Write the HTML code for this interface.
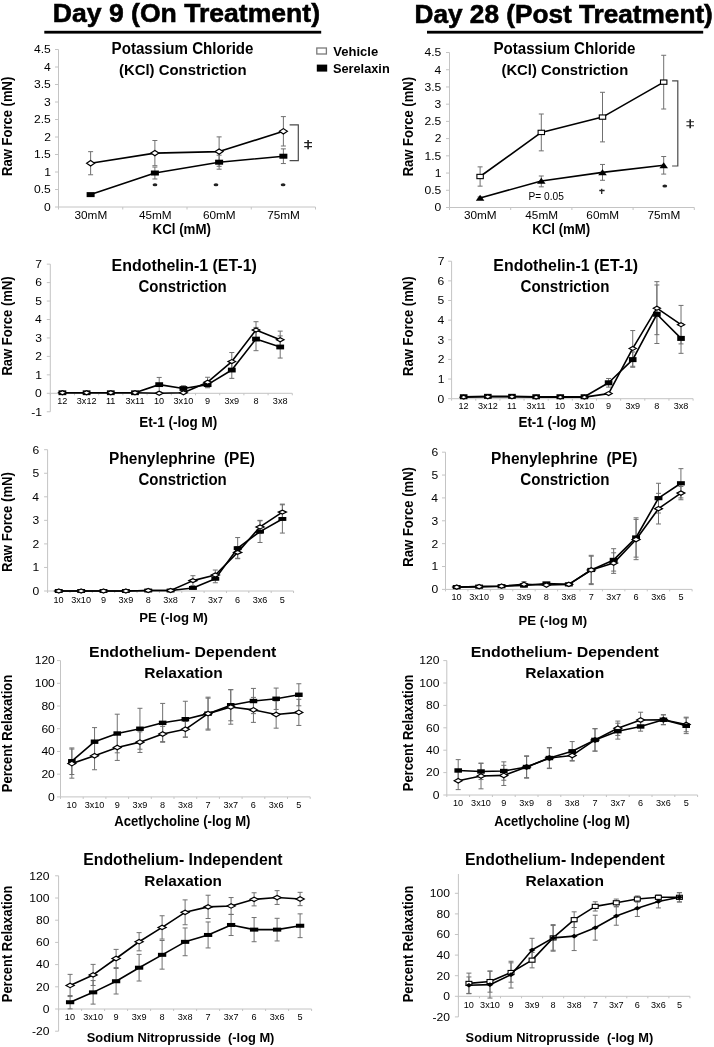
<!DOCTYPE html>
<html><head><meta charset="utf-8"><style>
html,body{margin:0;padding:0;background:#fff;}
svg{display:block;font-family:"Liberation Sans",sans-serif;}
svg{filter:grayscale(1);}
</style></head><body>
<svg width="714" height="1047" viewBox="0 0 714 1047">
<rect width="714" height="1047" fill="#fff"/>
<path d="M58.5 49.50V207.00" stroke="#c4c4c4" stroke-width="1" fill="none"/>
<path d="M55.00 207.00H58.5" stroke="#c4c4c4" stroke-width="1"/>
<text transform="translate(44.01,210.85) scale(1.1,1)" font-size="11" font-weight="normal">0</text>
<path d="M55.00 189.50H58.5" stroke="#c4c4c4" stroke-width="1"/>
<text transform="translate(33.96,193.35) scale(1.1,1)" font-size="11" font-weight="normal">0.5</text>
<path d="M55.00 172.00H58.5" stroke="#c4c4c4" stroke-width="1"/>
<text transform="translate(44.13,175.85) scale(1.1,1)" font-size="11" font-weight="normal">1</text>
<path d="M55.00 154.50H58.5" stroke="#c4c4c4" stroke-width="1"/>
<text transform="translate(33.96,158.35) scale(1.1,1)" font-size="11" font-weight="normal">1.5</text>
<path d="M55.00 137.00H58.5" stroke="#c4c4c4" stroke-width="1"/>
<text transform="translate(44.19,140.85) scale(1.1,1)" font-size="11" font-weight="normal">2</text>
<path d="M55.00 119.50H58.5" stroke="#c4c4c4" stroke-width="1"/>
<text transform="translate(33.96,123.35) scale(1.1,1)" font-size="11" font-weight="normal">2.5</text>
<path d="M55.00 102.00H58.5" stroke="#c4c4c4" stroke-width="1"/>
<text transform="translate(44.07,105.85) scale(1.1,1)" font-size="11" font-weight="normal">3</text>
<path d="M55.00 84.50H58.5" stroke="#c4c4c4" stroke-width="1"/>
<text transform="translate(33.96,88.35) scale(1.1,1)" font-size="11" font-weight="normal">3.5</text>
<path d="M55.00 67.00H58.5" stroke="#c4c4c4" stroke-width="1"/>
<text transform="translate(43.95,70.85) scale(1.1,1)" font-size="11" font-weight="normal">4</text>
<path d="M55.00 49.50H58.5" stroke="#c4c4c4" stroke-width="1"/>
<text transform="translate(33.96,53.35) scale(1.1,1)" font-size="11" font-weight="normal">4.5</text>
<path d="M58.5 207.00H315.50" stroke="#c4c4c4" stroke-width="1"/>
<path d="M58.50 207.00v2.5" stroke="#c4c4c4" stroke-width="1"/>
<path d="M122.75 207.00v2.5" stroke="#c4c4c4" stroke-width="1"/>
<path d="M187.00 207.00v2.5" stroke="#c4c4c4" stroke-width="1"/>
<path d="M251.25 207.00v2.5" stroke="#c4c4c4" stroke-width="1"/>
<path d="M315.50 207.00v2.5" stroke="#c4c4c4" stroke-width="1"/>
<text transform="translate(74.53,218.60) scale(1.07,1)" font-size="11" font-weight="normal" fill="#000">30mM</text>
<text transform="translate(138.90,218.60) scale(1.07,1)" font-size="11" font-weight="normal" fill="#000">45mM</text>
<text transform="translate(202.97,218.60) scale(1.07,1)" font-size="11" font-weight="normal" fill="#000">60mM</text>
<text transform="translate(267.22,218.60) scale(1.07,1)" font-size="11" font-weight="normal" fill="#000">75mM</text>
<path d="M90.62 194.61V193.56M88.12 193.56H93.12M90.62 194.61V195.66M88.12 195.66H93.12" stroke="#707070" stroke-width="1" fill="none"/>
<path d="M154.88 173.01V167.06M152.38 167.06H157.38M154.88 173.01V178.97M152.38 178.97H157.38" stroke="#707070" stroke-width="1" fill="none"/>
<path d="M219.12 162.20V155.20M216.62 155.20H221.62M219.12 162.20V169.20M216.62 169.20H221.62" stroke="#707070" stroke-width="1" fill="none"/>
<path d="M283.38 156.22V148.87M280.88 148.87H285.88M283.38 156.22V163.56M280.88 163.56H285.88" stroke="#707070" stroke-width="1" fill="none"/>
<path d="M90.62 163.22V151.66M88.12 151.66H93.12M90.62 163.22V174.77M88.12 174.77H93.12" stroke="#707070" stroke-width="1" fill="none"/>
<path d="M154.88 153.10V140.50M152.38 140.50H157.38M154.88 153.10V165.70M152.38 165.70H157.38" stroke="#707070" stroke-width="1" fill="none"/>
<path d="M219.12 151.59V136.89M216.62 136.89H221.62M219.12 151.59V166.30M216.62 166.30H221.62" stroke="#707070" stroke-width="1" fill="none"/>
<path d="M283.38 131.30V116.60M280.88 116.60H285.88M283.38 131.30V146.00M280.88 146.00H285.88" stroke="#707070" stroke-width="1" fill="none"/>
<polyline points="90.62,194.61 154.88,173.01 219.12,162.20 283.38,156.22" fill="none" stroke="#000" stroke-width="1.6" stroke-linejoin="round"/>
<rect x="86.62" y="192.11" width="8.0" height="5.0" fill="#000"/>
<rect x="150.88" y="170.51" width="8.0" height="5.0" fill="#000"/>
<rect x="215.12" y="159.70" width="8.0" height="5.0" fill="#000"/>
<rect x="279.38" y="153.72" width="8.0" height="5.0" fill="#000"/>
<polyline points="90.62,163.22 154.88,153.10 219.12,151.59 283.38,131.30" fill="none" stroke="#000" stroke-width="1.6" stroke-linejoin="round"/>
<path d="M86.62 163.22L90.62 160.52L94.62 163.22L90.62 165.91Z" fill="#fff" stroke="#000" stroke-width="1.2"/>
<path d="M150.88 153.10L154.88 150.40L158.88 153.10L154.88 155.80Z" fill="#fff" stroke="#000" stroke-width="1.2"/>
<path d="M215.12 151.59L219.12 148.90L223.12 151.59L219.12 154.29Z" fill="#fff" stroke="#000" stroke-width="1.2"/>
<path d="M279.38 131.30L283.38 128.60L287.38 131.30L283.38 134.00Z" fill="#fff" stroke="#000" stroke-width="1.2"/>
<text transform="translate(111.62,53.60) scale(0.9453,1)" font-size="15.99" font-weight="bold" fill="#000" style="white-space:pre" >Potassium Chloride</text>
<text transform="translate(118.95,74.80) scale(0.9870,1)" font-size="15.12" font-weight="bold" fill="#000" style="white-space:pre" >(KCl) Constriction</text>
<text transform="translate(152.53,233.90) scale(0.9539,1)" font-size="13.95" font-weight="bold" fill="#000" style="white-space:pre" >KCl (mM)</text>
<text transform="translate(12.30,175.95) rotate(-90) scale(0.9453,1)" font-size="13.81" font-weight="bold">Raw Force (mN)</text>
<path d="M449.5 52.52V207.50" stroke="#c4c4c4" stroke-width="1" fill="none"/>
<path d="M446.00 207.50H449.5" stroke="#c4c4c4" stroke-width="1"/>
<text transform="translate(434.51,211.35) scale(1.1,1)" font-size="11" font-weight="normal">0</text>
<path d="M446.00 190.28H449.5" stroke="#c4c4c4" stroke-width="1"/>
<text transform="translate(424.47,194.13) scale(1.1,1)" font-size="11" font-weight="normal">0.5</text>
<path d="M446.00 173.06H449.5" stroke="#c4c4c4" stroke-width="1"/>
<text transform="translate(434.63,176.91) scale(1.1,1)" font-size="11" font-weight="normal">1</text>
<path d="M446.00 155.84H449.5" stroke="#c4c4c4" stroke-width="1"/>
<text transform="translate(424.47,159.69) scale(1.1,1)" font-size="11" font-weight="normal">1.5</text>
<path d="M446.00 138.62H449.5" stroke="#c4c4c4" stroke-width="1"/>
<text transform="translate(434.69,142.47) scale(1.1,1)" font-size="11" font-weight="normal">2</text>
<path d="M446.00 121.40H449.5" stroke="#c4c4c4" stroke-width="1"/>
<text transform="translate(424.47,125.25) scale(1.1,1)" font-size="11" font-weight="normal">2.5</text>
<path d="M446.00 104.18H449.5" stroke="#c4c4c4" stroke-width="1"/>
<text transform="translate(434.57,108.03) scale(1.1,1)" font-size="11" font-weight="normal">3</text>
<path d="M446.00 86.96H449.5" stroke="#c4c4c4" stroke-width="1"/>
<text transform="translate(424.47,90.81) scale(1.1,1)" font-size="11" font-weight="normal">3.5</text>
<path d="M446.00 69.74H449.5" stroke="#c4c4c4" stroke-width="1"/>
<text transform="translate(434.45,73.59) scale(1.1,1)" font-size="11" font-weight="normal">4</text>
<path d="M446.00 52.52H449.5" stroke="#c4c4c4" stroke-width="1"/>
<text transform="translate(424.47,56.37) scale(1.1,1)" font-size="11" font-weight="normal">4.5</text>
<path d="M449.5 207.50H694.30" stroke="#c4c4c4" stroke-width="1"/>
<path d="M449.50 207.50v2.5" stroke="#c4c4c4" stroke-width="1"/>
<path d="M510.70 207.50v2.5" stroke="#c4c4c4" stroke-width="1"/>
<path d="M571.90 207.50v2.5" stroke="#c4c4c4" stroke-width="1"/>
<path d="M633.10 207.50v2.5" stroke="#c4c4c4" stroke-width="1"/>
<path d="M694.30 207.50v2.5" stroke="#c4c4c4" stroke-width="1"/>
<text transform="translate(464.00,218.60) scale(1.07,1)" font-size="11" font-weight="normal" fill="#000">30mM</text>
<text transform="translate(525.32,218.60) scale(1.07,1)" font-size="11" font-weight="normal" fill="#000">45mM</text>
<text transform="translate(586.35,218.60) scale(1.07,1)" font-size="11" font-weight="normal" fill="#000">60mM</text>
<text transform="translate(647.55,218.60) scale(1.07,1)" font-size="11" font-weight="normal" fill="#000">75mM</text>
<path d="M480.10 197.99V196.96M477.60 196.96H482.60M480.10 197.99V199.03M477.60 199.03H482.60" stroke="#707070" stroke-width="1" fill="none"/>
<path d="M541.30 180.98V175.99M538.80 175.99H543.80M541.30 180.98V186.84M538.80 186.84H543.80" stroke="#707070" stroke-width="1" fill="none"/>
<path d="M602.50 172.37V164.45M600.00 164.45H605.00M602.50 172.37V180.29M600.00 180.29H605.00" stroke="#707070" stroke-width="1" fill="none"/>
<path d="M663.70 165.31V156.53M661.20 156.53H666.20M663.70 165.31V174.09M661.20 174.09H666.20" stroke="#707070" stroke-width="1" fill="none"/>
<path d="M480.10 176.50V166.86M477.60 166.86H482.60M480.10 176.50V186.15M477.60 186.15H482.60" stroke="#707070" stroke-width="1" fill="none"/>
<path d="M541.30 132.42V114.00M538.80 114.00H543.80M541.30 132.42V150.85M538.80 150.85H543.80" stroke="#707070" stroke-width="1" fill="none"/>
<path d="M602.50 117.09V92.30M600.00 92.30H605.00M602.50 117.09V141.89M600.00 141.89H605.00" stroke="#707070" stroke-width="1" fill="none"/>
<path d="M663.70 82.14V55.28M661.20 55.28H666.20M663.70 82.14V109.00M661.20 109.00H666.20" stroke="#707070" stroke-width="1" fill="none"/>
<polyline points="480.10,197.99 541.30,180.98 602.50,172.37 663.70,165.31" fill="none" stroke="#000" stroke-width="1.6" stroke-linejoin="round"/>
<path d="M475.80 200.87L480.10 194.87L484.40 200.87Z" fill="#000"/>
<path d="M537.00 183.86L541.30 177.86L545.60 183.86Z" fill="#000"/>
<path d="M598.20 175.25L602.50 169.25L606.80 175.25Z" fill="#000"/>
<path d="M659.40 168.19L663.70 162.19L668.00 168.19Z" fill="#000"/>
<polyline points="480.10,176.50 541.30,132.42 602.50,117.09 663.70,82.14" fill="none" stroke="#000" stroke-width="1.6" stroke-linejoin="round"/>
<rect x="476.90" y="174.35" width="6.4" height="4.3" fill="#fff" stroke="#000" stroke-width="1.1"/>
<rect x="538.10" y="130.27" width="6.4" height="4.3" fill="#fff" stroke="#000" stroke-width="1.1"/>
<rect x="599.30" y="114.94" width="6.4" height="4.3" fill="#fff" stroke="#000" stroke-width="1.1"/>
<rect x="660.50" y="79.99" width="6.4" height="4.3" fill="#fff" stroke="#000" stroke-width="1.1"/>
<text transform="translate(493.42,53.60) scale(0.9466,1)" font-size="15.99" font-weight="bold" fill="#000" style="white-space:pre" >Potassium Chloride</text>
<text transform="translate(501.46,75.00) scale(0.9722,1)" font-size="15.26" font-weight="bold" fill="#000" style="white-space:pre" >(KCl) Constriction</text>
<text transform="translate(532.24,233.60) scale(0.9488,1)" font-size="13.95" font-weight="bold" fill="#000" style="white-space:pre" >KCl (mM)</text>
<text transform="translate(412.50,176.35) rotate(-90) scale(0.9268,1)" font-size="14.10" font-weight="bold">Raw Force (mN)</text>
<path d="M50.3 264.15V411.75" stroke="#c4c4c4" stroke-width="1" fill="none"/>
<path d="M46.80 411.75H50.3" stroke="#c4c4c4" stroke-width="1"/>
<text transform="translate(31.18,415.60) scale(1.1,1)" font-size="11" font-weight="normal">-1</text>
<path d="M46.80 393.30H50.3" stroke="#c4c4c4" stroke-width="1"/>
<text transform="translate(35.11,397.15) scale(1.1,1)" font-size="11" font-weight="normal">0</text>
<path d="M46.80 374.85H50.3" stroke="#c4c4c4" stroke-width="1"/>
<text transform="translate(35.23,378.70) scale(1.1,1)" font-size="11" font-weight="normal">1</text>
<path d="M46.80 356.40H50.3" stroke="#c4c4c4" stroke-width="1"/>
<text transform="translate(35.29,360.25) scale(1.1,1)" font-size="11" font-weight="normal">2</text>
<path d="M46.80 337.95H50.3" stroke="#c4c4c4" stroke-width="1"/>
<text transform="translate(35.17,341.80) scale(1.1,1)" font-size="11" font-weight="normal">3</text>
<path d="M46.80 319.50H50.3" stroke="#c4c4c4" stroke-width="1"/>
<text transform="translate(35.05,323.35) scale(1.1,1)" font-size="11" font-weight="normal">4</text>
<path d="M46.80 301.05H50.3" stroke="#c4c4c4" stroke-width="1"/>
<text transform="translate(35.17,304.90) scale(1.1,1)" font-size="11" font-weight="normal">5</text>
<path d="M46.80 282.60H50.3" stroke="#c4c4c4" stroke-width="1"/>
<text transform="translate(35.17,286.45) scale(1.1,1)" font-size="11" font-weight="normal">6</text>
<path d="M46.80 264.15H50.3" stroke="#c4c4c4" stroke-width="1"/>
<text transform="translate(35.29,268.00) scale(1.1,1)" font-size="11" font-weight="normal">7</text>
<path d="M50.3 393.30H292.30" stroke="#c4c4c4" stroke-width="1"/>
<path d="M50.30 393.30v2" stroke="#c4c4c4" stroke-width="1"/>
<path d="M74.50 393.30v2" stroke="#c4c4c4" stroke-width="1"/>
<path d="M98.70 393.30v2" stroke="#c4c4c4" stroke-width="1"/>
<path d="M122.90 393.30v2" stroke="#c4c4c4" stroke-width="1"/>
<path d="M147.10 393.30v2" stroke="#c4c4c4" stroke-width="1"/>
<path d="M171.30 393.30v2" stroke="#c4c4c4" stroke-width="1"/>
<path d="M195.50 393.30v2" stroke="#c4c4c4" stroke-width="1"/>
<path d="M219.70 393.30v2" stroke="#c4c4c4" stroke-width="1"/>
<path d="M243.90 393.30v2" stroke="#c4c4c4" stroke-width="1"/>
<path d="M268.10 393.30v2" stroke="#c4c4c4" stroke-width="1"/>
<path d="M292.30 393.30v2" stroke="#c4c4c4" stroke-width="1"/>
<text transform="translate(57.22,404.20) scale(1.1,1)" font-size="8.3" font-weight="normal" fill="#000">12</text>
<text transform="translate(76.76,404.20) scale(1.1,1)" font-size="8.3" font-weight="normal" fill="#000">3x12</text>
<text transform="translate(105.94,404.20) scale(1.1,1)" font-size="8.3" font-weight="normal" fill="#000">11</text>
<text transform="translate(125.46,404.20) scale(1.1,1)" font-size="8.3" font-weight="normal" fill="#000">3x11</text>
<text transform="translate(153.95,404.20) scale(1.1,1)" font-size="8.3" font-weight="normal" fill="#000">10</text>
<text transform="translate(173.49,404.20) scale(1.1,1)" font-size="8.3" font-weight="normal" fill="#000">3x10</text>
<text transform="translate(205.07,404.20) scale(1.1,1)" font-size="8.3" font-weight="normal" fill="#000">9</text>
<text transform="translate(224.47,404.20) scale(1.1,1)" font-size="8.3" font-weight="normal" fill="#000">3x9</text>
<text transform="translate(253.44,404.20) scale(1.1,1)" font-size="8.3" font-weight="normal" fill="#000">8</text>
<text transform="translate(272.85,404.20) scale(1.1,1)" font-size="8.3" font-weight="normal" fill="#000">3x8</text>
<path d="M159.20 384.63V377.43M156.70 377.43H161.70M159.20 384.63V391.82M156.70 391.82H161.70" stroke="#707070" stroke-width="1" fill="none"/>
<path d="M183.40 388.50V385.74M180.90 385.74H185.90M183.40 388.50V391.27M180.90 391.27H185.90" stroke="#707070" stroke-width="1" fill="none"/>
<path d="M207.60 384.63V381.49M205.10 381.49H210.10M207.60 384.63V387.76M205.10 387.76H210.10" stroke="#707070" stroke-width="1" fill="none"/>
<path d="M231.80 370.05V361.75M229.30 361.75H234.30M231.80 370.05V378.36M229.30 378.36H234.30" stroke="#707070" stroke-width="1" fill="none"/>
<path d="M256.00 339.06V327.43M253.50 327.43H258.50M256.00 339.06V350.68M253.50 350.68H258.50" stroke="#707070" stroke-width="1" fill="none"/>
<path d="M280.20 346.99V335.92M277.70 335.92H282.70M280.20 346.99V358.06M277.70 358.06H282.70" stroke="#707070" stroke-width="1" fill="none"/>
<path d="M207.60 382.23V377.25M205.10 377.25H210.10M207.60 382.23V387.21M205.10 387.21H210.10" stroke="#707070" stroke-width="1" fill="none"/>
<path d="M231.80 361.57V352.53M229.30 352.53H234.30M231.80 361.57V370.61M229.30 370.61H234.30" stroke="#707070" stroke-width="1" fill="none"/>
<path d="M256.00 330.02V321.71M253.50 321.71H258.50M256.00 330.02V338.32M253.50 338.32H258.50" stroke="#707070" stroke-width="1" fill="none"/>
<path d="M280.20 339.80V331.12M277.70 331.12H282.70M280.20 339.80V348.47M277.70 348.47H282.70" stroke="#707070" stroke-width="1" fill="none"/>
<polyline points="62.40,392.75 86.60,392.75 110.80,392.75 135.00,392.75 159.20,384.63 183.40,388.50 207.60,384.63 231.80,370.05 256.00,339.06 280.20,346.99" fill="none" stroke="#000" stroke-width="1.6" stroke-linejoin="round"/>
<rect x="58.50" y="390.35" width="7.8" height="4.8" fill="#000"/>
<rect x="82.70" y="390.35" width="7.8" height="4.8" fill="#000"/>
<rect x="106.90" y="390.35" width="7.8" height="4.8" fill="#000"/>
<rect x="131.10" y="390.35" width="7.8" height="4.8" fill="#000"/>
<rect x="155.30" y="382.23" width="7.8" height="4.8" fill="#000"/>
<rect x="179.50" y="386.10" width="7.8" height="4.8" fill="#000"/>
<rect x="203.70" y="382.23" width="7.8" height="4.8" fill="#000"/>
<rect x="227.90" y="367.65" width="7.8" height="4.8" fill="#000"/>
<rect x="252.10" y="336.66" width="7.8" height="4.8" fill="#000"/>
<rect x="276.30" y="344.59" width="7.8" height="4.8" fill="#000"/>
<polyline points="62.40,392.75 86.60,392.75 110.80,392.75 135.00,392.75 159.20,393.30 183.40,392.75 207.60,382.23 231.80,361.57 256.00,330.02 280.20,339.80" fill="none" stroke="#000" stroke-width="1.6" stroke-linejoin="round"/>
<path d="M58.60 392.75L62.40 390.75L66.20 392.75L62.40 394.75Z" fill="#fff" stroke="#000" stroke-width="1.2"/>
<path d="M82.80 392.75L86.60 390.75L90.40 392.75L86.60 394.75Z" fill="#fff" stroke="#000" stroke-width="1.2"/>
<path d="M107.00 392.75L110.80 390.75L114.60 392.75L110.80 394.75Z" fill="#fff" stroke="#000" stroke-width="1.2"/>
<path d="M131.20 392.75L135.00 390.75L138.80 392.75L135.00 394.75Z" fill="#fff" stroke="#000" stroke-width="1.2"/>
<path d="M155.40 393.30L159.20 391.30L163.00 393.30L159.20 395.30Z" fill="#fff" stroke="#000" stroke-width="1.2"/>
<path d="M179.60 392.75L183.40 390.75L187.20 392.75L183.40 394.75Z" fill="#fff" stroke="#000" stroke-width="1.2"/>
<path d="M203.80 382.23L207.60 380.23L211.40 382.23L207.60 384.23Z" fill="#fff" stroke="#000" stroke-width="1.2"/>
<path d="M228.00 361.57L231.80 359.57L235.60 361.57L231.80 363.57Z" fill="#fff" stroke="#000" stroke-width="1.2"/>
<path d="M252.20 330.02L256.00 328.02L259.80 330.02L256.00 332.02Z" fill="#fff" stroke="#000" stroke-width="1.2"/>
<path d="M276.40 339.80L280.20 337.80L284.00 339.80L280.20 341.80Z" fill="#fff" stroke="#000" stroke-width="1.2"/>
<text transform="translate(111.56,271.40) scale(0.9896,1)" font-size="16.13" font-weight="bold" fill="#000" style="white-space:pre" >Endothelin-1 (ET-1)</text>
<text transform="translate(138.50,292.30) scale(0.9303,1)" font-size="16.13" font-weight="bold" fill="#000" style="white-space:pre" >Constriction</text>
<text transform="translate(139.32,426.90) scale(0.9187,1)" font-size="14.68" font-weight="bold" fill="#000" style="white-space:pre" >Et-1 (-log M)</text>
<text transform="translate(12.30,375.55) rotate(-90) scale(0.9444,1)" font-size="13.81" font-weight="bold">Raw Force (mN)</text>
<path d="M451.6 261.22V398.70" stroke="#c4c4c4" stroke-width="1" fill="none"/>
<path d="M448.10 398.70H451.6" stroke="#c4c4c4" stroke-width="1"/>
<text transform="translate(437.51,402.55) scale(1.1,1)" font-size="11" font-weight="normal">0</text>
<path d="M448.10 379.06H451.6" stroke="#c4c4c4" stroke-width="1"/>
<text transform="translate(437.63,382.91) scale(1.1,1)" font-size="11" font-weight="normal">1</text>
<path d="M448.10 359.42H451.6" stroke="#c4c4c4" stroke-width="1"/>
<text transform="translate(437.69,363.27) scale(1.1,1)" font-size="11" font-weight="normal">2</text>
<path d="M448.10 339.78H451.6" stroke="#c4c4c4" stroke-width="1"/>
<text transform="translate(437.57,343.63) scale(1.1,1)" font-size="11" font-weight="normal">3</text>
<path d="M448.10 320.14H451.6" stroke="#c4c4c4" stroke-width="1"/>
<text transform="translate(437.45,323.99) scale(1.1,1)" font-size="11" font-weight="normal">4</text>
<path d="M448.10 300.50H451.6" stroke="#c4c4c4" stroke-width="1"/>
<text transform="translate(437.57,304.35) scale(1.1,1)" font-size="11" font-weight="normal">5</text>
<path d="M448.10 280.86H451.6" stroke="#c4c4c4" stroke-width="1"/>
<text transform="translate(437.57,284.71) scale(1.1,1)" font-size="11" font-weight="normal">6</text>
<path d="M448.10 261.22H451.6" stroke="#c4c4c4" stroke-width="1"/>
<text transform="translate(437.69,265.07) scale(1.1,1)" font-size="11" font-weight="normal">7</text>
<path d="M451.6 398.70H693.10" stroke="#c4c4c4" stroke-width="1"/>
<path d="M451.60 398.70v2" stroke="#c4c4c4" stroke-width="1"/>
<path d="M475.75 398.70v2" stroke="#c4c4c4" stroke-width="1"/>
<path d="M499.90 398.70v2" stroke="#c4c4c4" stroke-width="1"/>
<path d="M524.05 398.70v2" stroke="#c4c4c4" stroke-width="1"/>
<path d="M548.20 398.70v2" stroke="#c4c4c4" stroke-width="1"/>
<path d="M572.35 398.70v2" stroke="#c4c4c4" stroke-width="1"/>
<path d="M596.50 398.70v2" stroke="#c4c4c4" stroke-width="1"/>
<path d="M620.65 398.70v2" stroke="#c4c4c4" stroke-width="1"/>
<path d="M644.80 398.70v2" stroke="#c4c4c4" stroke-width="1"/>
<path d="M668.95 398.70v2" stroke="#c4c4c4" stroke-width="1"/>
<path d="M693.10 398.70v2" stroke="#c4c4c4" stroke-width="1"/>
<text transform="translate(458.49,409.30) scale(1.1,1)" font-size="8.3" font-weight="normal" fill="#000">12</text>
<text transform="translate(477.99,409.30) scale(1.1,1)" font-size="8.3" font-weight="normal" fill="#000">3x12</text>
<text transform="translate(507.11,409.30) scale(1.1,1)" font-size="8.3" font-weight="normal" fill="#000">11</text>
<text transform="translate(526.58,409.30) scale(1.1,1)" font-size="8.3" font-weight="normal" fill="#000">3x11</text>
<text transform="translate(555.03,409.30) scale(1.1,1)" font-size="8.3" font-weight="normal" fill="#000">10</text>
<text transform="translate(574.52,409.30) scale(1.1,1)" font-size="8.3" font-weight="normal" fill="#000">3x10</text>
<text transform="translate(606.04,409.30) scale(1.1,1)" font-size="8.3" font-weight="normal" fill="#000">9</text>
<text transform="translate(625.40,409.30) scale(1.1,1)" font-size="8.3" font-weight="normal" fill="#000">3x9</text>
<text transform="translate(654.32,409.30) scale(1.1,1)" font-size="8.3" font-weight="normal" fill="#000">8</text>
<text transform="translate(673.68,409.30) scale(1.1,1)" font-size="8.3" font-weight="normal" fill="#000">3x8</text>
<path d="M608.58 382.79V378.47M606.08 378.47H611.08M608.58 382.79V387.11M606.08 387.11H611.08" stroke="#707070" stroke-width="1" fill="none"/>
<path d="M632.73 359.62V351.96M630.23 351.96H635.23M632.73 359.62V367.28M630.23 367.28H635.23" stroke="#707070" stroke-width="1" fill="none"/>
<path d="M656.88 314.25V284.98M654.38 284.98H659.38M656.88 314.25V343.51M654.38 343.51H659.38" stroke="#707070" stroke-width="1" fill="none"/>
<path d="M681.02 338.41V323.48M678.52 323.48H683.52M681.02 338.41V353.33M678.52 353.33H683.52" stroke="#707070" stroke-width="1" fill="none"/>
<path d="M632.73 348.42V330.55M630.23 330.55H635.23M632.73 348.42V366.29M630.23 366.29H635.23" stroke="#707070" stroke-width="1" fill="none"/>
<path d="M656.88 308.16V281.65M654.38 281.65H659.38M656.88 308.16V334.67M654.38 334.67H659.38" stroke="#707070" stroke-width="1" fill="none"/>
<path d="M681.02 324.66V305.41M678.52 305.41H683.52M681.02 324.66V343.90M678.52 343.90H683.52" stroke="#707070" stroke-width="1" fill="none"/>
<polyline points="463.68,396.74 487.83,396.34 511.98,396.34 536.12,396.74 560.27,396.74 584.42,396.74 608.58,382.79 632.73,359.62 656.88,314.25 681.02,338.41" fill="none" stroke="#000" stroke-width="1.6" stroke-linejoin="round"/>
<rect x="459.88" y="394.24" width="7.6" height="5.0" fill="#000"/>
<rect x="484.03" y="393.84" width="7.6" height="5.0" fill="#000"/>
<rect x="508.18" y="393.84" width="7.6" height="5.0" fill="#000"/>
<rect x="532.33" y="394.24" width="7.6" height="5.0" fill="#000"/>
<rect x="556.48" y="394.24" width="7.6" height="5.0" fill="#000"/>
<rect x="580.62" y="394.24" width="7.6" height="5.0" fill="#000"/>
<rect x="604.78" y="380.29" width="7.6" height="5.0" fill="#000"/>
<rect x="628.93" y="357.12" width="7.6" height="5.0" fill="#000"/>
<rect x="653.08" y="311.75" width="7.6" height="5.0" fill="#000"/>
<rect x="677.23" y="335.91" width="7.6" height="5.0" fill="#000"/>
<polyline points="463.68,397.13 487.83,396.74 511.98,396.74 536.12,397.13 560.27,397.13 584.42,397.13 608.58,393.59 632.73,348.42 656.88,308.16 681.02,324.66" fill="none" stroke="#000" stroke-width="1.6" stroke-linejoin="round"/>
<path d="M460.07 397.13L463.68 395.13L467.28 397.13L463.68 399.13Z" fill="#fff" stroke="#000" stroke-width="1.2"/>
<path d="M484.23 396.74L487.83 394.74L491.43 396.74L487.83 398.74Z" fill="#fff" stroke="#000" stroke-width="1.2"/>
<path d="M508.38 396.74L511.98 394.74L515.58 396.74L511.98 398.74Z" fill="#fff" stroke="#000" stroke-width="1.2"/>
<path d="M532.52 397.13L536.12 395.13L539.73 397.13L536.12 399.13Z" fill="#fff" stroke="#000" stroke-width="1.2"/>
<path d="M556.67 397.13L560.27 395.13L563.88 397.13L560.27 399.13Z" fill="#fff" stroke="#000" stroke-width="1.2"/>
<path d="M580.82 397.13L584.42 395.13L588.02 397.13L584.42 399.13Z" fill="#fff" stroke="#000" stroke-width="1.2"/>
<path d="M604.98 393.59L608.58 391.59L612.18 393.59L608.58 395.59Z" fill="#fff" stroke="#000" stroke-width="1.2"/>
<path d="M629.12 348.42L632.73 346.42L636.33 348.42L632.73 350.42Z" fill="#fff" stroke="#000" stroke-width="1.2"/>
<path d="M653.27 308.16L656.88 306.16L660.48 308.16L656.88 310.16Z" fill="#fff" stroke="#000" stroke-width="1.2"/>
<path d="M677.42 324.66L681.02 322.66L684.62 324.66L681.02 326.66Z" fill="#fff" stroke="#000" stroke-width="1.2"/>
<text transform="translate(493.37,271.40) scale(1.0036,1)" font-size="15.84" font-weight="bold" fill="#000" style="white-space:pre" >Endothelin-1 (ET-1)</text>
<text transform="translate(520.50,292.30) scale(0.9367,1)" font-size="16.13" font-weight="bold" fill="#000" style="white-space:pre" >Constriction</text>
<text transform="translate(518.43,426.90) scale(0.9541,1)" font-size="14.10" font-weight="bold" fill="#000" style="white-space:pre" >Et-1 (-log M)</text>
<text transform="translate(412.50,375.95) rotate(-90) scale(0.9287,1)" font-size="14.10" font-weight="bold">Raw Force (mN)</text>
<path d="M47.6 449.70V591.00" stroke="#c4c4c4" stroke-width="1" fill="none"/>
<path d="M44.10 591.00H47.6" stroke="#c4c4c4" stroke-width="1"/>
<text transform="translate(32.41,594.85) scale(1.1,1)" font-size="11" font-weight="normal">0</text>
<path d="M44.10 567.45H47.6" stroke="#c4c4c4" stroke-width="1"/>
<text transform="translate(32.53,571.30) scale(1.1,1)" font-size="11" font-weight="normal">1</text>
<path d="M44.10 543.90H47.6" stroke="#c4c4c4" stroke-width="1"/>
<text transform="translate(32.59,547.75) scale(1.1,1)" font-size="11" font-weight="normal">2</text>
<path d="M44.10 520.35H47.6" stroke="#c4c4c4" stroke-width="1"/>
<text transform="translate(32.47,524.20) scale(1.1,1)" font-size="11" font-weight="normal">3</text>
<path d="M44.10 496.80H47.6" stroke="#c4c4c4" stroke-width="1"/>
<text transform="translate(32.35,500.65) scale(1.1,1)" font-size="11" font-weight="normal">4</text>
<path d="M44.10 473.25H47.6" stroke="#c4c4c4" stroke-width="1"/>
<text transform="translate(32.47,477.10) scale(1.1,1)" font-size="11" font-weight="normal">5</text>
<path d="M44.10 449.70H47.6" stroke="#c4c4c4" stroke-width="1"/>
<text transform="translate(32.47,453.55) scale(1.1,1)" font-size="11" font-weight="normal">6</text>
<path d="M47.6 591.00H293.56" stroke="#c4c4c4" stroke-width="1"/>
<path d="M47.60 591.00v2" stroke="#c4c4c4" stroke-width="1"/>
<path d="M69.96 591.00v2" stroke="#c4c4c4" stroke-width="1"/>
<path d="M92.32 591.00v2" stroke="#c4c4c4" stroke-width="1"/>
<path d="M114.68 591.00v2" stroke="#c4c4c4" stroke-width="1"/>
<path d="M137.04 591.00v2" stroke="#c4c4c4" stroke-width="1"/>
<path d="M159.40 591.00v2" stroke="#c4c4c4" stroke-width="1"/>
<path d="M181.76 591.00v2" stroke="#c4c4c4" stroke-width="1"/>
<path d="M204.12 591.00v2" stroke="#c4c4c4" stroke-width="1"/>
<path d="M226.48 591.00v2" stroke="#c4c4c4" stroke-width="1"/>
<path d="M248.84 591.00v2" stroke="#c4c4c4" stroke-width="1"/>
<path d="M271.20 591.00v2" stroke="#c4c4c4" stroke-width="1"/>
<path d="M293.56 591.00v2" stroke="#c4c4c4" stroke-width="1"/>
<text transform="translate(53.53,602.50) scale(1.1,1)" font-size="8.3" font-weight="normal" fill="#000">10</text>
<text transform="translate(71.23,602.50) scale(1.1,1)" font-size="8.3" font-weight="normal" fill="#000">3x10</text>
<text transform="translate(100.97,602.50) scale(1.1,1)" font-size="8.3" font-weight="normal" fill="#000">9</text>
<text transform="translate(118.53,602.50) scale(1.1,1)" font-size="8.3" font-weight="normal" fill="#000">3x9</text>
<text transform="translate(145.66,602.50) scale(1.1,1)" font-size="8.3" font-weight="normal" fill="#000">8</text>
<text transform="translate(163.23,602.50) scale(1.1,1)" font-size="8.3" font-weight="normal" fill="#000">3x8</text>
<text transform="translate(190.41,602.50) scale(1.1,1)" font-size="8.3" font-weight="normal" fill="#000">7</text>
<text transform="translate(208.00,602.50) scale(1.1,1)" font-size="8.3" font-weight="normal" fill="#000">3x7</text>
<text transform="translate(235.08,602.50) scale(1.1,1)" font-size="8.3" font-weight="normal" fill="#000">6</text>
<text transform="translate(252.67,602.50) scale(1.1,1)" font-size="8.3" font-weight="normal" fill="#000">3x6</text>
<text transform="translate(279.85,602.50) scale(1.1,1)" font-size="8.3" font-weight="normal" fill="#000">5</text>
<path d="M192.94 587.94V586.76M190.44 586.76H195.44M192.94 587.94V589.12M190.44 589.12H195.44" stroke="#707070" stroke-width="1" fill="none"/>
<path d="M215.30 578.75V574.75M212.80 574.75H217.80M215.30 578.75V582.76M212.80 582.76H217.80" stroke="#707070" stroke-width="1" fill="none"/>
<path d="M237.66 548.14V537.54M235.16 537.54H240.16M237.66 548.14V558.74M235.16 558.74H240.16" stroke="#707070" stroke-width="1" fill="none"/>
<path d="M260.02 531.65V520.82M257.52 520.82H262.52M260.02 531.65V542.49M257.52 542.49H262.52" stroke="#707070" stroke-width="1" fill="none"/>
<path d="M282.38 518.94V504.81M279.88 504.81H284.88M282.38 518.94V533.07M279.88 533.07H284.88" stroke="#707070" stroke-width="1" fill="none"/>
<path d="M192.94 580.64V575.69M190.44 575.69H195.44M192.94 580.64V585.58M190.44 585.58H195.44" stroke="#707070" stroke-width="1" fill="none"/>
<path d="M215.30 574.99V570.04M212.80 570.04H217.80M215.30 574.99V579.93M212.80 579.93H217.80" stroke="#707070" stroke-width="1" fill="none"/>
<path d="M237.66 552.38V546.49M235.16 546.49H240.16M237.66 552.38V558.27M235.16 558.27H240.16" stroke="#707070" stroke-width="1" fill="none"/>
<path d="M260.02 526.94V520.35M257.52 520.35H262.52M260.02 526.94V533.54M257.52 533.54H262.52" stroke="#707070" stroke-width="1" fill="none"/>
<path d="M282.38 512.11V504.10M279.88 504.10H284.88M282.38 512.11V520.11M279.88 520.11H284.88" stroke="#707070" stroke-width="1" fill="none"/>
<polyline points="58.78,591.00 81.14,591.00 103.50,591.00 125.86,591.00 148.22,590.53 170.58,590.53 192.94,587.94 215.30,578.75 237.66,548.14 260.02,531.65 282.38,518.94" fill="none" stroke="#000" stroke-width="1.6" stroke-linejoin="round"/>
<rect x="54.83" y="589.05" width="7.9" height="3.9" fill="#000"/>
<rect x="77.19" y="589.05" width="7.9" height="3.9" fill="#000"/>
<rect x="99.55" y="589.05" width="7.9" height="3.9" fill="#000"/>
<rect x="121.91" y="589.05" width="7.9" height="3.9" fill="#000"/>
<rect x="144.27" y="588.58" width="7.9" height="3.9" fill="#000"/>
<rect x="166.63" y="588.58" width="7.9" height="3.9" fill="#000"/>
<rect x="188.99" y="585.99" width="7.9" height="3.9" fill="#000"/>
<rect x="211.35" y="576.80" width="7.9" height="3.9" fill="#000"/>
<rect x="233.71" y="546.19" width="7.9" height="3.9" fill="#000"/>
<rect x="256.07" y="529.70" width="7.9" height="3.9" fill="#000"/>
<rect x="278.43" y="516.99" width="7.9" height="3.9" fill="#000"/>
<polyline points="58.78,591.00 81.14,591.00 103.50,591.00 125.86,591.00 148.22,590.53 170.58,590.53 192.94,580.64 215.30,574.99 237.66,552.38 260.02,526.94 282.38,512.11" fill="none" stroke="#000" stroke-width="1.6" stroke-linejoin="round"/>
<path d="M54.68 591.00L58.78 589.00L62.88 591.00L58.78 593.00Z" fill="#fff" stroke="#000" stroke-width="1.2"/>
<path d="M77.04 591.00L81.14 589.00L85.24 591.00L81.14 593.00Z" fill="#fff" stroke="#000" stroke-width="1.2"/>
<path d="M99.40 591.00L103.50 589.00L107.60 591.00L103.50 593.00Z" fill="#fff" stroke="#000" stroke-width="1.2"/>
<path d="M121.76 591.00L125.86 589.00L129.96 591.00L125.86 593.00Z" fill="#fff" stroke="#000" stroke-width="1.2"/>
<path d="M144.12 590.53L148.22 588.53L152.32 590.53L148.22 592.53Z" fill="#fff" stroke="#000" stroke-width="1.2"/>
<path d="M166.48 590.53L170.58 588.53L174.68 590.53L170.58 592.53Z" fill="#fff" stroke="#000" stroke-width="1.2"/>
<path d="M188.84 580.64L192.94 578.64L197.04 580.64L192.94 582.64Z" fill="#fff" stroke="#000" stroke-width="1.2"/>
<path d="M211.20 574.99L215.30 572.99L219.40 574.99L215.30 576.99Z" fill="#fff" stroke="#000" stroke-width="1.2"/>
<path d="M233.56 552.38L237.66 550.38L241.76 552.38L237.66 554.38Z" fill="#fff" stroke="#000" stroke-width="1.2"/>
<path d="M255.92 526.94L260.02 524.94L264.12 526.94L260.02 528.94Z" fill="#fff" stroke="#000" stroke-width="1.2"/>
<path d="M278.28 512.11L282.38 510.11L286.48 512.11L282.38 514.11Z" fill="#fff" stroke="#000" stroke-width="1.2"/>
<text transform="translate(109.10,463.90) scale(0.9405,1)" font-size="16.42" font-weight="bold" fill="#000" style="white-space:pre" >Phenylephrine  (PE)</text>
<text transform="translate(138.50,484.80) scale(0.9303,1)" font-size="16.13" font-weight="bold" fill="#000" style="white-space:pre" >Constriction</text>
<text transform="translate(139.35,621.90) scale(0.9834,1)" font-size="13.37" font-weight="bold" fill="#000" style="white-space:pre" >PE (-log M)</text>
<text transform="translate(12.30,571.95) rotate(-90) scale(0.9502,1)" font-size="13.81" font-weight="bold">Raw Force (mN)</text>
<path d="M445.5 452.18V589.40" stroke="#c4c4c4" stroke-width="1" fill="none"/>
<path d="M442.00 589.40H445.5" stroke="#c4c4c4" stroke-width="1"/>
<text transform="translate(431.41,593.25) scale(1.1,1)" font-size="11" font-weight="normal">0</text>
<path d="M442.00 566.53H445.5" stroke="#c4c4c4" stroke-width="1"/>
<text transform="translate(431.53,570.38) scale(1.1,1)" font-size="11" font-weight="normal">1</text>
<path d="M442.00 543.66H445.5" stroke="#c4c4c4" stroke-width="1"/>
<text transform="translate(431.59,547.51) scale(1.1,1)" font-size="11" font-weight="normal">2</text>
<path d="M442.00 520.79H445.5" stroke="#c4c4c4" stroke-width="1"/>
<text transform="translate(431.47,524.64) scale(1.1,1)" font-size="11" font-weight="normal">3</text>
<path d="M442.00 497.92H445.5" stroke="#c4c4c4" stroke-width="1"/>
<text transform="translate(431.35,501.77) scale(1.1,1)" font-size="11" font-weight="normal">4</text>
<path d="M442.00 475.05H445.5" stroke="#c4c4c4" stroke-width="1"/>
<text transform="translate(431.47,478.90) scale(1.1,1)" font-size="11" font-weight="normal">5</text>
<path d="M442.00 452.18H445.5" stroke="#c4c4c4" stroke-width="1"/>
<text transform="translate(431.47,456.03) scale(1.1,1)" font-size="11" font-weight="normal">6</text>
<path d="M445.5 589.40H692.12" stroke="#c4c4c4" stroke-width="1"/>
<path d="M445.50 589.40v2" stroke="#c4c4c4" stroke-width="1"/>
<path d="M467.92 589.40v2" stroke="#c4c4c4" stroke-width="1"/>
<path d="M490.34 589.40v2" stroke="#c4c4c4" stroke-width="1"/>
<path d="M512.76 589.40v2" stroke="#c4c4c4" stroke-width="1"/>
<path d="M535.18 589.40v2" stroke="#c4c4c4" stroke-width="1"/>
<path d="M557.60 589.40v2" stroke="#c4c4c4" stroke-width="1"/>
<path d="M580.02 589.40v2" stroke="#c4c4c4" stroke-width="1"/>
<path d="M602.44 589.40v2" stroke="#c4c4c4" stroke-width="1"/>
<path d="M624.86 589.40v2" stroke="#c4c4c4" stroke-width="1"/>
<path d="M647.28 589.40v2" stroke="#c4c4c4" stroke-width="1"/>
<path d="M669.70 589.40v2" stroke="#c4c4c4" stroke-width="1"/>
<path d="M692.12 589.40v2" stroke="#c4c4c4" stroke-width="1"/>
<text transform="translate(451.46,599.50) scale(1.1,1)" font-size="8.3" font-weight="normal" fill="#000">10</text>
<text transform="translate(469.22,599.50) scale(1.1,1)" font-size="8.3" font-weight="normal" fill="#000">3x10</text>
<text transform="translate(499.02,599.50) scale(1.1,1)" font-size="8.3" font-weight="normal" fill="#000">9</text>
<text transform="translate(516.64,599.50) scale(1.1,1)" font-size="8.3" font-weight="normal" fill="#000">3x9</text>
<text transform="translate(543.83,599.50) scale(1.1,1)" font-size="8.3" font-weight="normal" fill="#000">8</text>
<text transform="translate(561.46,599.50) scale(1.1,1)" font-size="8.3" font-weight="normal" fill="#000">3x8</text>
<text transform="translate(588.70,599.50) scale(1.1,1)" font-size="8.3" font-weight="normal" fill="#000">7</text>
<text transform="translate(606.35,599.50) scale(1.1,1)" font-size="8.3" font-weight="normal" fill="#000">3x7</text>
<text transform="translate(633.49,599.50) scale(1.1,1)" font-size="8.3" font-weight="normal" fill="#000">6</text>
<text transform="translate(651.14,599.50) scale(1.1,1)" font-size="8.3" font-weight="normal" fill="#000">3x6</text>
<text transform="translate(678.38,599.50) scale(1.1,1)" font-size="8.3" font-weight="normal" fill="#000">5</text>
<path d="M591.23 569.96V556.24M588.73 556.24H593.73M591.23 569.96V583.68M588.73 583.68H593.73" stroke="#707070" stroke-width="1" fill="none"/>
<path d="M613.65 559.90V548.69M611.15 548.69H616.15M613.65 559.90V571.10M611.15 571.10H616.15" stroke="#707070" stroke-width="1" fill="none"/>
<path d="M636.07 537.49V517.82M633.57 517.82H638.57M636.07 537.49V557.15M633.57 557.15H638.57" stroke="#707070" stroke-width="1" fill="none"/>
<path d="M658.49 498.15V483.28M655.99 483.28H660.99M658.49 498.15V513.01M655.99 513.01H660.99" stroke="#707070" stroke-width="1" fill="none"/>
<path d="M680.91 483.28V468.65M678.41 468.65H683.41M680.91 483.28V497.92M678.41 497.92H683.41" stroke="#707070" stroke-width="1" fill="none"/>
<path d="M523.97 584.37V581.62M521.47 581.62H526.47M523.97 584.37V587.11M521.47 587.11H526.47" stroke="#707070" stroke-width="1" fill="none"/>
<path d="M591.23 569.96V555.32M588.73 555.32H593.73M591.23 569.96V584.60M588.73 584.60H593.73" stroke="#707070" stroke-width="1" fill="none"/>
<path d="M613.65 563.10V552.81M611.15 552.81H616.15M613.65 563.10V573.39M611.15 573.39H616.15" stroke="#707070" stroke-width="1" fill="none"/>
<path d="M636.07 539.54V519.42M633.57 519.42H638.57M636.07 539.54V559.67M633.57 559.67H638.57" stroke="#707070" stroke-width="1" fill="none"/>
<path d="M658.49 508.67V493.35M655.99 493.35H660.99M658.49 508.67V523.99M655.99 523.99H660.99" stroke="#707070" stroke-width="1" fill="none"/>
<path d="M680.91 493.12V486.48M678.41 486.48H683.41M680.91 493.12V499.75M678.41 499.75H683.41" stroke="#707070" stroke-width="1" fill="none"/>
<polyline points="456.71,587.11 479.13,586.66 501.55,586.20 523.97,585.51 546.39,583.45 568.81,584.37 591.23,569.96 613.65,559.90 636.07,537.49 658.49,498.15 680.91,483.28" fill="none" stroke="#000" stroke-width="1.6" stroke-linejoin="round"/>
<rect x="452.76" y="585.01" width="7.9" height="4.2" fill="#000"/>
<rect x="475.18" y="584.56" width="7.9" height="4.2" fill="#000"/>
<rect x="497.60" y="584.10" width="7.9" height="4.2" fill="#000"/>
<rect x="520.02" y="583.41" width="7.9" height="4.2" fill="#000"/>
<rect x="542.44" y="581.35" width="7.9" height="4.2" fill="#000"/>
<rect x="564.86" y="582.27" width="7.9" height="4.2" fill="#000"/>
<rect x="587.28" y="567.86" width="7.9" height="4.2" fill="#000"/>
<rect x="609.70" y="557.80" width="7.9" height="4.2" fill="#000"/>
<rect x="632.12" y="535.39" width="7.9" height="4.2" fill="#000"/>
<rect x="654.54" y="496.05" width="7.9" height="4.2" fill="#000"/>
<rect x="676.96" y="481.18" width="7.9" height="4.2" fill="#000"/>
<polyline points="456.71,587.11 479.13,586.66 501.55,586.20 523.97,584.37 546.39,585.05 568.81,584.37 591.23,569.96 613.65,563.10 636.07,539.54 658.49,508.67 680.91,493.12" fill="none" stroke="#000" stroke-width="1.6" stroke-linejoin="round"/>
<path d="M452.71 587.11L456.71 584.91L460.71 587.11L456.71 589.31Z" fill="#fff" stroke="#000" stroke-width="1.2"/>
<path d="M475.13 586.66L479.13 584.46L483.13 586.66L479.13 588.86Z" fill="#fff" stroke="#000" stroke-width="1.2"/>
<path d="M497.55 586.20L501.55 584.00L505.55 586.20L501.55 588.40Z" fill="#fff" stroke="#000" stroke-width="1.2"/>
<path d="M519.97 584.37L523.97 582.17L527.97 584.37L523.97 586.57Z" fill="#fff" stroke="#000" stroke-width="1.2"/>
<path d="M542.39 585.05L546.39 582.85L550.39 585.05L546.39 587.25Z" fill="#fff" stroke="#000" stroke-width="1.2"/>
<path d="M564.81 584.37L568.81 582.17L572.81 584.37L568.81 586.57Z" fill="#fff" stroke="#000" stroke-width="1.2"/>
<path d="M587.23 569.96L591.23 567.76L595.23 569.96L591.23 572.16Z" fill="#fff" stroke="#000" stroke-width="1.2"/>
<path d="M609.65 563.10L613.65 560.90L617.65 563.10L613.65 565.30Z" fill="#fff" stroke="#000" stroke-width="1.2"/>
<path d="M632.07 539.54L636.07 537.34L640.07 539.54L636.07 541.74Z" fill="#fff" stroke="#000" stroke-width="1.2"/>
<path d="M654.49 508.67L658.49 506.47L662.49 508.67L658.49 510.87Z" fill="#fff" stroke="#000" stroke-width="1.2"/>
<path d="M676.91 493.12L680.91 490.92L684.91 493.12L680.91 495.32Z" fill="#fff" stroke="#000" stroke-width="1.2"/>
<text transform="translate(491.09,463.90) scale(0.9438,1)" font-size="16.42" font-weight="bold" fill="#000" style="white-space:pre" >Phenylephrine  (PE)</text>
<text transform="translate(520.19,484.80) scale(0.9399,1)" font-size="16.13" font-weight="bold" fill="#000" style="white-space:pre" >Constriction</text>
<text transform="translate(518.44,625.00) scale(1.0068,1)" font-size="13.08" font-weight="bold" fill="#000" style="white-space:pre" >PE (-log M)</text>
<text transform="translate(412.50,566.65) rotate(-90) scale(0.9287,1)" font-size="14.10" font-weight="bold">Raw Force (mN)</text>
<path d="M60.5 660.58V796.90" stroke="#c4c4c4" stroke-width="1" fill="none"/>
<path d="M57.00 796.90H60.5" stroke="#c4c4c4" stroke-width="1"/>
<text transform="translate(48.11,800.75) scale(1.1,1)" font-size="11" font-weight="normal">0</text>
<path d="M57.00 774.18H60.5" stroke="#c4c4c4" stroke-width="1"/>
<text transform="translate(41.39,778.03) scale(1.1,1)" font-size="11" font-weight="normal">20</text>
<path d="M57.00 751.46H60.5" stroke="#c4c4c4" stroke-width="1"/>
<text transform="translate(41.39,755.31) scale(1.1,1)" font-size="11" font-weight="normal">40</text>
<path d="M57.00 728.74H60.5" stroke="#c4c4c4" stroke-width="1"/>
<text transform="translate(41.39,732.59) scale(1.1,1)" font-size="11" font-weight="normal">60</text>
<path d="M57.00 706.02H60.5" stroke="#c4c4c4" stroke-width="1"/>
<text transform="translate(41.39,709.87) scale(1.1,1)" font-size="11" font-weight="normal">80</text>
<path d="M57.00 683.30H60.5" stroke="#c4c4c4" stroke-width="1"/>
<text transform="translate(34.68,687.15) scale(1.1,1)" font-size="11" font-weight="normal">100</text>
<path d="M57.00 660.58H60.5" stroke="#c4c4c4" stroke-width="1"/>
<text transform="translate(34.68,664.43) scale(1.1,1)" font-size="11" font-weight="normal">120</text>
<path d="M60.5 796.90H310.20" stroke="#c4c4c4" stroke-width="1"/>
<path d="M60.50 796.90v2" stroke="#c4c4c4" stroke-width="1"/>
<path d="M83.20 796.90v2" stroke="#c4c4c4" stroke-width="1"/>
<path d="M105.90 796.90v2" stroke="#c4c4c4" stroke-width="1"/>
<path d="M128.60 796.90v2" stroke="#c4c4c4" stroke-width="1"/>
<path d="M151.30 796.90v2" stroke="#c4c4c4" stroke-width="1"/>
<path d="M174.00 796.90v2" stroke="#c4c4c4" stroke-width="1"/>
<path d="M196.70 796.90v2" stroke="#c4c4c4" stroke-width="1"/>
<path d="M219.40 796.90v2" stroke="#c4c4c4" stroke-width="1"/>
<path d="M242.10 796.90v2" stroke="#c4c4c4" stroke-width="1"/>
<path d="M264.80 796.90v2" stroke="#c4c4c4" stroke-width="1"/>
<path d="M287.50 796.90v2" stroke="#c4c4c4" stroke-width="1"/>
<path d="M310.20 796.90v2" stroke="#c4c4c4" stroke-width="1"/>
<text transform="translate(66.60,807.70) scale(1.1,1)" font-size="8.3" font-weight="normal" fill="#000">10</text>
<text transform="translate(84.64,807.70) scale(1.1,1)" font-size="8.3" font-weight="normal" fill="#000">3x10</text>
<text transform="translate(114.72,807.70) scale(1.1,1)" font-size="8.3" font-weight="normal" fill="#000">9</text>
<text transform="translate(132.62,807.70) scale(1.1,1)" font-size="8.3" font-weight="normal" fill="#000">3x9</text>
<text transform="translate(160.09,807.70) scale(1.1,1)" font-size="8.3" font-weight="normal" fill="#000">8</text>
<text transform="translate(178.00,807.70) scale(1.1,1)" font-size="8.3" font-weight="normal" fill="#000">3x8</text>
<text transform="translate(205.52,807.70) scale(1.1,1)" font-size="8.3" font-weight="normal" fill="#000">7</text>
<text transform="translate(223.45,807.70) scale(1.1,1)" font-size="8.3" font-weight="normal" fill="#000">3x7</text>
<text transform="translate(250.87,807.70) scale(1.1,1)" font-size="8.3" font-weight="normal" fill="#000">6</text>
<text transform="translate(268.80,807.70) scale(1.1,1)" font-size="8.3" font-weight="normal" fill="#000">3x6</text>
<text transform="translate(296.32,807.70) scale(1.1,1)" font-size="8.3" font-weight="normal" fill="#000">5</text>
<path d="M71.85 761.23V747.94M69.35 747.94H74.35M71.85 761.23V774.52M69.35 774.52H74.35" stroke="#707070" stroke-width="1" fill="none"/>
<path d="M94.55 741.69V727.60M92.05 727.60H97.05M94.55 741.69V755.78M92.05 755.78H97.05" stroke="#707070" stroke-width="1" fill="none"/>
<path d="M117.25 733.51V714.20M114.75 714.20H119.75M117.25 733.51V752.82M114.75 752.82H119.75" stroke="#707070" stroke-width="1" fill="none"/>
<path d="M139.95 728.74V708.29M137.45 708.29H142.45M139.95 728.74V749.19M137.45 749.19H142.45" stroke="#707070" stroke-width="1" fill="none"/>
<path d="M162.65 722.83V703.41M160.15 703.41H165.15M162.65 722.83V742.26M160.15 742.26H165.15" stroke="#707070" stroke-width="1" fill="none"/>
<path d="M185.35 719.20V701.25M182.85 701.25H187.85M185.35 719.20V737.15M182.85 737.15H187.85" stroke="#707070" stroke-width="1" fill="none"/>
<path d="M208.05 713.63V698.18M205.55 698.18H210.55M208.05 713.63V729.08M205.55 729.08H210.55" stroke="#707070" stroke-width="1" fill="none"/>
<path d="M230.75 705.22V689.66M228.25 689.66H233.25M230.75 705.22V720.79M228.25 720.79H233.25" stroke="#707070" stroke-width="1" fill="none"/>
<path d="M253.45 701.02V688.41M250.95 688.41H255.95M253.45 701.02V713.63M250.95 713.63H255.95" stroke="#707070" stroke-width="1" fill="none"/>
<path d="M276.15 698.75V688.07M273.65 688.07H278.65M276.15 698.75V709.43M273.65 709.43H278.65" stroke="#707070" stroke-width="1" fill="none"/>
<path d="M298.85 694.77V683.75M296.35 683.75H301.35M298.85 694.77V705.79M296.35 705.79H301.35" stroke="#707070" stroke-width="1" fill="none"/>
<path d="M71.85 763.62V749.07M69.35 749.07H74.35M71.85 763.62V778.16M69.35 778.16H74.35" stroke="#707070" stroke-width="1" fill="none"/>
<path d="M94.55 755.78V741.80M92.05 741.80H97.05M94.55 755.78V769.75M92.05 769.75H97.05" stroke="#707070" stroke-width="1" fill="none"/>
<path d="M117.25 747.48V734.53M114.75 734.53H119.75M117.25 747.48V760.43M114.75 760.43H119.75" stroke="#707070" stroke-width="1" fill="none"/>
<path d="M139.95 742.14V731.81M137.45 731.81H142.45M139.95 742.14V752.48M137.45 752.48H142.45" stroke="#707070" stroke-width="1" fill="none"/>
<path d="M162.65 733.97V726.35M160.15 726.35H165.15M162.65 733.97V741.58M160.15 741.58H165.15" stroke="#707070" stroke-width="1" fill="none"/>
<path d="M185.35 729.31V721.47M182.85 721.47H187.85M185.35 729.31V737.15M182.85 737.15H187.85" stroke="#707070" stroke-width="1" fill="none"/>
<path d="M208.05 713.63V697.16M205.55 697.16H210.55M208.05 713.63V730.10M205.55 730.10H210.55" stroke="#707070" stroke-width="1" fill="none"/>
<path d="M230.75 706.93V689.66M228.25 689.66H233.25M230.75 706.93V724.20M228.25 724.20H233.25" stroke="#707070" stroke-width="1" fill="none"/>
<path d="M253.45 709.88V697.39M250.95 697.39H255.95M253.45 709.88V722.38M250.95 722.38H255.95" stroke="#707070" stroke-width="1" fill="none"/>
<path d="M276.15 714.54V700.91M273.65 700.91H278.65M276.15 714.54V728.17M273.65 728.17H278.65" stroke="#707070" stroke-width="1" fill="none"/>
<path d="M298.85 712.38V699.32M296.35 699.32H301.35M298.85 712.38V725.45M296.35 725.45H301.35" stroke="#707070" stroke-width="1" fill="none"/>
<polyline points="71.85,761.23 94.55,741.69 117.25,733.51 139.95,728.74 162.65,722.83 185.35,719.20 208.05,713.63 230.75,705.22 253.45,701.02 276.15,698.75 298.85,694.77" fill="none" stroke="#000" stroke-width="1.6" stroke-linejoin="round"/>
<rect x="68.05" y="759.03" width="7.6" height="4.4" fill="#000"/>
<rect x="90.75" y="739.49" width="7.6" height="4.4" fill="#000"/>
<rect x="113.45" y="731.31" width="7.6" height="4.4" fill="#000"/>
<rect x="136.15" y="726.54" width="7.6" height="4.4" fill="#000"/>
<rect x="158.85" y="720.63" width="7.6" height="4.4" fill="#000"/>
<rect x="181.55" y="717.00" width="7.6" height="4.4" fill="#000"/>
<rect x="204.25" y="711.43" width="7.6" height="4.4" fill="#000"/>
<rect x="226.95" y="703.02" width="7.6" height="4.4" fill="#000"/>
<rect x="249.65" y="698.82" width="7.6" height="4.4" fill="#000"/>
<rect x="272.35" y="696.55" width="7.6" height="4.4" fill="#000"/>
<rect x="295.05" y="692.57" width="7.6" height="4.4" fill="#000"/>
<polyline points="71.85,763.62 94.55,755.78 117.25,747.48 139.95,742.14 162.65,733.97 185.35,729.31 208.05,713.63 230.75,706.93 253.45,709.88 276.15,714.54 298.85,712.38" fill="none" stroke="#000" stroke-width="1.6" stroke-linejoin="round"/>
<path d="M67.85 763.62L71.85 761.32L75.85 763.62L71.85 765.92Z" fill="#fff" stroke="#000" stroke-width="1.2"/>
<path d="M90.55 755.78L94.55 753.48L98.55 755.78L94.55 758.08Z" fill="#fff" stroke="#000" stroke-width="1.2"/>
<path d="M113.25 747.48L117.25 745.18L121.25 747.48L117.25 749.78Z" fill="#fff" stroke="#000" stroke-width="1.2"/>
<path d="M135.95 742.14L139.95 739.84L143.95 742.14L139.95 744.44Z" fill="#fff" stroke="#000" stroke-width="1.2"/>
<path d="M158.65 733.97L162.65 731.67L166.65 733.97L162.65 736.27Z" fill="#fff" stroke="#000" stroke-width="1.2"/>
<path d="M181.35 729.31L185.35 727.01L189.35 729.31L185.35 731.61Z" fill="#fff" stroke="#000" stroke-width="1.2"/>
<path d="M204.05 713.63L208.05 711.33L212.05 713.63L208.05 715.93Z" fill="#fff" stroke="#000" stroke-width="1.2"/>
<path d="M226.75 706.93L230.75 704.63L234.75 706.93L230.75 709.23Z" fill="#fff" stroke="#000" stroke-width="1.2"/>
<path d="M249.45 709.88L253.45 707.58L257.45 709.88L253.45 712.18Z" fill="#fff" stroke="#000" stroke-width="1.2"/>
<path d="M272.15 714.54L276.15 712.24L280.15 714.54L276.15 716.84Z" fill="#fff" stroke="#000" stroke-width="1.2"/>
<path d="M294.85 712.38L298.85 710.08L302.85 712.38L298.85 714.68Z" fill="#fff" stroke="#000" stroke-width="1.2"/>
<text transform="translate(89.07,656.80) scale(1.0479,1)" font-size="15.12" font-weight="bold" fill="#000" style="white-space:pre" >Endothelium- Dependent</text>
<text transform="translate(144.19,678.40) scale(1.0584,1)" font-size="14.68" font-weight="bold" fill="#000" style="white-space:pre" >Relaxation</text>
<text transform="translate(114.27,826.00) scale(0.9407,1)" font-size="13.95" font-weight="bold" fill="#000" style="white-space:pre" >Acetlycholine (-log M)</text>
<text transform="translate(12.20,792.25) rotate(-90) scale(0.9265,1)" font-size="14.10" font-weight="bold">Percent Relaxation</text>
<path d="M446.8 660.60V795.00" stroke="#c4c4c4" stroke-width="1" fill="none"/>
<path d="M443.30 795.00H446.8" stroke="#c4c4c4" stroke-width="1"/>
<text transform="translate(432.71,798.85) scale(1.1,1)" font-size="11" font-weight="normal">0</text>
<path d="M443.30 772.60H446.8" stroke="#c4c4c4" stroke-width="1"/>
<text transform="translate(425.99,776.45) scale(1.1,1)" font-size="11" font-weight="normal">20</text>
<path d="M443.30 750.20H446.8" stroke="#c4c4c4" stroke-width="1"/>
<text transform="translate(425.99,754.05) scale(1.1,1)" font-size="11" font-weight="normal">40</text>
<path d="M443.30 727.80H446.8" stroke="#c4c4c4" stroke-width="1"/>
<text transform="translate(425.99,731.65) scale(1.1,1)" font-size="11" font-weight="normal">60</text>
<path d="M443.30 705.40H446.8" stroke="#c4c4c4" stroke-width="1"/>
<text transform="translate(425.99,709.25) scale(1.1,1)" font-size="11" font-weight="normal">80</text>
<path d="M443.30 683.00H446.8" stroke="#c4c4c4" stroke-width="1"/>
<text transform="translate(419.28,686.85) scale(1.1,1)" font-size="11" font-weight="normal">100</text>
<path d="M443.30 660.60H446.8" stroke="#c4c4c4" stroke-width="1"/>
<text transform="translate(419.28,664.45) scale(1.1,1)" font-size="11" font-weight="normal">120</text>
<path d="M446.8 795.00H697.60" stroke="#c4c4c4" stroke-width="1"/>
<path d="M446.80 795.00v2" stroke="#c4c4c4" stroke-width="1"/>
<path d="M469.60 795.00v2" stroke="#c4c4c4" stroke-width="1"/>
<path d="M492.40 795.00v2" stroke="#c4c4c4" stroke-width="1"/>
<path d="M515.20 795.00v2" stroke="#c4c4c4" stroke-width="1"/>
<path d="M538.00 795.00v2" stroke="#c4c4c4" stroke-width="1"/>
<path d="M560.80 795.00v2" stroke="#c4c4c4" stroke-width="1"/>
<path d="M583.60 795.00v2" stroke="#c4c4c4" stroke-width="1"/>
<path d="M606.40 795.00v2" stroke="#c4c4c4" stroke-width="1"/>
<path d="M629.20 795.00v2" stroke="#c4c4c4" stroke-width="1"/>
<path d="M652.00 795.00v2" stroke="#c4c4c4" stroke-width="1"/>
<path d="M674.80 795.00v2" stroke="#c4c4c4" stroke-width="1"/>
<path d="M697.60 795.00v2" stroke="#c4c4c4" stroke-width="1"/>
<text transform="translate(452.95,805.60) scale(1.1,1)" font-size="8.3" font-weight="normal" fill="#000">10</text>
<text transform="translate(471.09,805.60) scale(1.1,1)" font-size="8.3" font-weight="normal" fill="#000">3x10</text>
<text transform="translate(501.27,805.60) scale(1.1,1)" font-size="8.3" font-weight="normal" fill="#000">9</text>
<text transform="translate(519.27,805.60) scale(1.1,1)" font-size="8.3" font-weight="normal" fill="#000">3x9</text>
<text transform="translate(546.84,805.60) scale(1.1,1)" font-size="8.3" font-weight="normal" fill="#000">8</text>
<text transform="translate(564.85,805.60) scale(1.1,1)" font-size="8.3" font-weight="normal" fill="#000">3x8</text>
<text transform="translate(592.47,805.60) scale(1.1,1)" font-size="8.3" font-weight="normal" fill="#000">7</text>
<text transform="translate(610.50,805.60) scale(1.1,1)" font-size="8.3" font-weight="normal" fill="#000">3x7</text>
<text transform="translate(638.02,805.60) scale(1.1,1)" font-size="8.3" font-weight="normal" fill="#000">6</text>
<text transform="translate(656.05,805.60) scale(1.1,1)" font-size="8.3" font-weight="normal" fill="#000">3x6</text>
<text transform="translate(683.67,805.60) scale(1.1,1)" font-size="8.3" font-weight="normal" fill="#000">5</text>
<path d="M458.20 780.66V771.70M455.70 771.70H460.70M458.20 780.66V789.62M455.70 789.62H460.70" stroke="#707070" stroke-width="1" fill="none"/>
<path d="M481.00 775.96V763.08M478.50 763.08H483.50M481.00 775.96V788.84M478.50 788.84H483.50" stroke="#707070" stroke-width="1" fill="none"/>
<path d="M503.80 775.40V765.32M501.30 765.32H506.30M503.80 775.40V785.48M501.30 785.48H506.30" stroke="#707070" stroke-width="1" fill="none"/>
<path d="M526.60 767.00V755.80M524.10 755.80H529.10M526.60 767.00V778.20M524.10 778.20H529.10" stroke="#707070" stroke-width="1" fill="none"/>
<path d="M549.40 758.04V747.96M546.90 747.96H551.90M549.40 758.04V768.12M546.90 768.12H551.90" stroke="#707070" stroke-width="1" fill="none"/>
<path d="M572.20 755.46V750.31M569.70 750.31H574.70M572.20 755.46V760.62M569.70 760.62H574.70" stroke="#707070" stroke-width="1" fill="none"/>
<path d="M595.00 739.90V728.70M592.50 728.70H597.50M595.00 739.90V751.10M592.50 751.10H597.50" stroke="#707070" stroke-width="1" fill="none"/>
<path d="M617.80 728.25V721.08M615.30 721.08H620.30M617.80 728.25V735.42M615.30 735.42H620.30" stroke="#707070" stroke-width="1" fill="none"/>
<path d="M640.60 719.96V712.23M638.10 712.23H643.10M640.60 719.96V727.69M638.10 727.69H643.10" stroke="#707070" stroke-width="1" fill="none"/>
<path d="M663.40 719.74V714.70M660.90 714.70H665.90M663.40 719.74V724.78M660.90 724.78H665.90" stroke="#707070" stroke-width="1" fill="none"/>
<path d="M686.20 724.44V717.16M683.70 717.16H688.70M686.20 724.44V731.72M683.70 731.72H688.70" stroke="#707070" stroke-width="1" fill="none"/>
<path d="M458.20 770.47V759.61M455.70 759.61H460.70M458.20 770.47V781.34M455.70 781.34H460.70" stroke="#707070" stroke-width="1" fill="none"/>
<path d="M481.00 771.48V763.42M478.50 763.42H483.50M481.00 771.48V779.54M478.50 779.54H483.50" stroke="#707070" stroke-width="1" fill="none"/>
<path d="M503.80 771.03V761.85M501.30 761.85H506.30M503.80 771.03V780.22M501.30 780.22H506.30" stroke="#707070" stroke-width="1" fill="none"/>
<path d="M526.60 767.00V756.36M524.10 756.36H529.10M526.60 767.00V777.64M524.10 777.64H529.10" stroke="#707070" stroke-width="1" fill="none"/>
<path d="M549.40 758.04V747.51M546.90 747.51H551.90M549.40 758.04V768.57M546.90 768.57H551.90" stroke="#707070" stroke-width="1" fill="none"/>
<path d="M572.20 751.32V741.58M569.70 741.58H574.70M572.20 751.32V761.06M569.70 761.06H574.70" stroke="#707070" stroke-width="1" fill="none"/>
<path d="M595.00 739.90V728.70M592.50 728.70H597.50M595.00 739.90V751.10M592.50 751.10H597.50" stroke="#707070" stroke-width="1" fill="none"/>
<path d="M617.80 731.16V723.21M615.30 723.21H620.30M617.80 731.16V739.11M615.30 739.11H620.30" stroke="#707070" stroke-width="1" fill="none"/>
<path d="M640.60 726.46V721.75M638.10 721.75H643.10M640.60 726.46V731.16M638.10 731.16H643.10" stroke="#707070" stroke-width="1" fill="none"/>
<path d="M663.40 719.74V714.92M660.90 714.92H665.90M663.40 719.74V724.55M660.90 724.55H665.90" stroke="#707070" stroke-width="1" fill="none"/>
<path d="M686.20 725.78V717.94M683.70 717.94H688.70M686.20 725.78V733.62M683.70 733.62H688.70" stroke="#707070" stroke-width="1" fill="none"/>
<polyline points="458.20,780.66 481.00,775.96 503.80,775.40 526.60,767.00 549.40,758.04 572.20,755.46 595.00,739.90 617.80,728.25 640.60,719.96 663.40,719.74 686.20,724.44" fill="none" stroke="#000" stroke-width="1.6" stroke-linejoin="round"/>
<path d="M454.20 780.66L458.20 778.36L462.20 780.66L458.20 782.96Z" fill="#fff" stroke="#000" stroke-width="1.2"/>
<path d="M477.00 775.96L481.00 773.66L485.00 775.96L481.00 778.26Z" fill="#fff" stroke="#000" stroke-width="1.2"/>
<path d="M499.80 775.40L503.80 773.10L507.80 775.40L503.80 777.70Z" fill="#fff" stroke="#000" stroke-width="1.2"/>
<path d="M522.60 767.00L526.60 764.70L530.60 767.00L526.60 769.30Z" fill="#fff" stroke="#000" stroke-width="1.2"/>
<path d="M545.40 758.04L549.40 755.74L553.40 758.04L549.40 760.34Z" fill="#fff" stroke="#000" stroke-width="1.2"/>
<path d="M568.20 755.46L572.20 753.16L576.20 755.46L572.20 757.76Z" fill="#fff" stroke="#000" stroke-width="1.2"/>
<path d="M591.00 739.90L595.00 737.60L599.00 739.90L595.00 742.20Z" fill="#fff" stroke="#000" stroke-width="1.2"/>
<path d="M613.80 728.25L617.80 725.95L621.80 728.25L617.80 730.55Z" fill="#fff" stroke="#000" stroke-width="1.2"/>
<path d="M636.60 719.96L640.60 717.66L644.60 719.96L640.60 722.26Z" fill="#fff" stroke="#000" stroke-width="1.2"/>
<path d="M659.40 719.74L663.40 717.44L667.40 719.74L663.40 722.04Z" fill="#fff" stroke="#000" stroke-width="1.2"/>
<path d="M682.20 724.44L686.20 722.14L690.20 724.44L686.20 726.74Z" fill="#fff" stroke="#000" stroke-width="1.2"/>
<polyline points="458.20,770.47 481.00,771.48 503.80,771.03 526.60,767.00 549.40,758.04 572.20,751.32 595.00,739.90 617.80,731.16 640.60,726.46 663.40,719.74 686.20,725.78" fill="none" stroke="#000" stroke-width="1.6" stroke-linejoin="round"/>
<rect x="454.40" y="768.27" width="7.6" height="4.4" fill="#000"/>
<rect x="477.20" y="769.28" width="7.6" height="4.4" fill="#000"/>
<rect x="500.00" y="768.83" width="7.6" height="4.4" fill="#000"/>
<rect x="522.80" y="764.80" width="7.6" height="4.4" fill="#000"/>
<rect x="545.60" y="755.84" width="7.6" height="4.4" fill="#000"/>
<rect x="568.40" y="749.12" width="7.6" height="4.4" fill="#000"/>
<rect x="591.20" y="737.70" width="7.6" height="4.4" fill="#000"/>
<rect x="614.00" y="728.96" width="7.6" height="4.4" fill="#000"/>
<rect x="636.80" y="724.26" width="7.6" height="4.4" fill="#000"/>
<rect x="659.60" y="717.54" width="7.6" height="4.4" fill="#000"/>
<rect x="682.40" y="723.58" width="7.6" height="4.4" fill="#000"/>
<text transform="translate(470.67,657.20) scale(1.0331,1)" font-size="15.41" font-weight="bold" fill="#000" style="white-space:pre" >Endothelium- Dependent</text>
<text transform="translate(525.28,678.10) scale(1.0639,1)" font-size="14.68" font-weight="bold" fill="#000" style="white-space:pre" >Relaxation</text>
<text transform="translate(494.27,826.00) scale(0.9352,1)" font-size="13.95" font-weight="bold" fill="#000" style="white-space:pre" >Acetlycholine (-log M)</text>
<text transform="translate(413.00,791.24) rotate(-90) scale(0.8837,1)" font-size="14.68" font-weight="bold">Percent Relaxation</text>
<path d="M58.6 875.80V1031.20" stroke="#c4c4c4" stroke-width="1" fill="none"/>
<path d="M55.10 1031.20H58.6" stroke="#c4c4c4" stroke-width="1"/>
<text transform="translate(31.94,1035.05) scale(1.1,1)" font-size="11" font-weight="normal">-20</text>
<path d="M55.10 1009.00H58.6" stroke="#c4c4c4" stroke-width="1"/>
<text transform="translate(42.71,1012.85) scale(1.1,1)" font-size="11" font-weight="normal">0</text>
<path d="M55.10 986.80H58.6" stroke="#c4c4c4" stroke-width="1"/>
<text transform="translate(35.99,990.65) scale(1.1,1)" font-size="11" font-weight="normal">20</text>
<path d="M55.10 964.60H58.6" stroke="#c4c4c4" stroke-width="1"/>
<text transform="translate(35.99,968.45) scale(1.1,1)" font-size="11" font-weight="normal">40</text>
<path d="M55.10 942.40H58.6" stroke="#c4c4c4" stroke-width="1"/>
<text transform="translate(35.99,946.25) scale(1.1,1)" font-size="11" font-weight="normal">60</text>
<path d="M55.10 920.20H58.6" stroke="#c4c4c4" stroke-width="1"/>
<text transform="translate(35.99,924.05) scale(1.1,1)" font-size="11" font-weight="normal">80</text>
<path d="M55.10 898.00H58.6" stroke="#c4c4c4" stroke-width="1"/>
<text transform="translate(29.28,901.85) scale(1.1,1)" font-size="11" font-weight="normal">100</text>
<path d="M55.10 875.80H58.6" stroke="#c4c4c4" stroke-width="1"/>
<text transform="translate(29.28,879.65) scale(1.1,1)" font-size="11" font-weight="normal">120</text>
<path d="M58.6 1009.00H311.60" stroke="#c4c4c4" stroke-width="1"/>
<path d="M58.60 1009.00v2" stroke="#c4c4c4" stroke-width="1"/>
<path d="M81.60 1009.00v2" stroke="#c4c4c4" stroke-width="1"/>
<path d="M104.60 1009.00v2" stroke="#c4c4c4" stroke-width="1"/>
<path d="M127.60 1009.00v2" stroke="#c4c4c4" stroke-width="1"/>
<path d="M150.60 1009.00v2" stroke="#c4c4c4" stroke-width="1"/>
<path d="M173.60 1009.00v2" stroke="#c4c4c4" stroke-width="1"/>
<path d="M196.60 1009.00v2" stroke="#c4c4c4" stroke-width="1"/>
<path d="M219.60 1009.00v2" stroke="#c4c4c4" stroke-width="1"/>
<path d="M242.60 1009.00v2" stroke="#c4c4c4" stroke-width="1"/>
<path d="M265.60 1009.00v2" stroke="#c4c4c4" stroke-width="1"/>
<path d="M288.60 1009.00v2" stroke="#c4c4c4" stroke-width="1"/>
<path d="M311.60 1009.00v2" stroke="#c4c4c4" stroke-width="1"/>
<text transform="translate(64.85,1019.60) scale(1.1,1)" font-size="8.3" font-weight="normal" fill="#000">10</text>
<text transform="translate(83.19,1019.60) scale(1.1,1)" font-size="8.3" font-weight="normal" fill="#000">3x10</text>
<text transform="translate(113.57,1019.60) scale(1.1,1)" font-size="8.3" font-weight="normal" fill="#000">9</text>
<text transform="translate(131.77,1019.60) scale(1.1,1)" font-size="8.3" font-weight="normal" fill="#000">3x9</text>
<text transform="translate(159.54,1019.60) scale(1.1,1)" font-size="8.3" font-weight="normal" fill="#000">8</text>
<text transform="translate(177.75,1019.60) scale(1.1,1)" font-size="8.3" font-weight="normal" fill="#000">3x8</text>
<text transform="translate(205.57,1019.60) scale(1.1,1)" font-size="8.3" font-weight="normal" fill="#000">7</text>
<text transform="translate(223.80,1019.60) scale(1.1,1)" font-size="8.3" font-weight="normal" fill="#000">3x7</text>
<text transform="translate(251.52,1019.60) scale(1.1,1)" font-size="8.3" font-weight="normal" fill="#000">6</text>
<text transform="translate(269.75,1019.60) scale(1.1,1)" font-size="8.3" font-weight="normal" fill="#000">3x6</text>
<text transform="translate(297.57,1019.60) scale(1.1,1)" font-size="8.3" font-weight="normal" fill="#000">5</text>
<path d="M70.10 1002.23V995.57M67.60 995.57H72.60M70.10 1002.23V1008.89M67.60 1008.89H72.60" stroke="#707070" stroke-width="1" fill="none"/>
<path d="M93.10 992.35V980.58M90.60 980.58H95.60M93.10 992.35V1004.12M90.60 1004.12H95.60" stroke="#707070" stroke-width="1" fill="none"/>
<path d="M116.10 981.25V968.49M113.60 968.49H118.60M116.10 981.25V994.01M113.60 994.01H118.60" stroke="#707070" stroke-width="1" fill="none"/>
<path d="M139.10 967.71V954.39M136.60 954.39H141.60M139.10 967.71V981.03M136.60 981.03H141.60" stroke="#707070" stroke-width="1" fill="none"/>
<path d="M162.10 954.83V940.51M159.60 940.51H164.60M162.10 954.83V969.15M159.60 969.15H164.60" stroke="#707070" stroke-width="1" fill="none"/>
<path d="M185.10 941.85V927.97M182.60 927.97H187.60M185.10 941.85V955.72M182.60 955.72H187.60" stroke="#707070" stroke-width="1" fill="none"/>
<path d="M208.10 934.96V921.98M205.60 921.98H210.60M208.10 934.96V947.95M205.60 947.95H210.60" stroke="#707070" stroke-width="1" fill="none"/>
<path d="M231.10 924.97V914.43M228.60 914.43H233.60M231.10 924.97V935.52M228.60 935.52H233.60" stroke="#707070" stroke-width="1" fill="none"/>
<path d="M254.10 929.63V917.54M251.60 917.54H256.60M254.10 929.63V941.73M251.60 941.73H256.60" stroke="#707070" stroke-width="1" fill="none"/>
<path d="M277.10 929.63V918.31M274.60 918.31H279.60M277.10 929.63V940.96M274.60 940.96H279.60" stroke="#707070" stroke-width="1" fill="none"/>
<path d="M300.10 925.75V913.87M297.60 913.87H302.60M300.10 925.75V937.63M297.60 937.63H302.60" stroke="#707070" stroke-width="1" fill="none"/>
<path d="M70.10 985.47V974.37M67.60 974.37H72.60M70.10 985.47V996.57M67.60 996.57H72.60" stroke="#707070" stroke-width="1" fill="none"/>
<path d="M93.10 974.92V964.38M90.60 964.38H95.60M93.10 974.92V985.47M90.60 985.47H95.60" stroke="#707070" stroke-width="1" fill="none"/>
<path d="M116.10 958.50V949.39M113.60 949.39H118.60M116.10 958.50V967.60M113.60 967.60H118.60" stroke="#707070" stroke-width="1" fill="none"/>
<path d="M139.10 941.73V932.63M136.60 932.63H141.60M139.10 941.73V950.84M136.60 950.84H141.60" stroke="#707070" stroke-width="1" fill="none"/>
<path d="M162.10 927.41V915.76M159.60 915.76H164.60M162.10 927.41V939.07M159.60 939.07H164.60" stroke="#707070" stroke-width="1" fill="none"/>
<path d="M185.10 912.32V899.89M182.60 899.89H187.60M185.10 912.32V924.75M182.60 924.75H187.60" stroke="#707070" stroke-width="1" fill="none"/>
<path d="M208.10 906.88V895.23M205.60 895.23H210.60M208.10 906.88V918.53M205.60 918.53H210.60" stroke="#707070" stroke-width="1" fill="none"/>
<path d="M231.10 905.99V897.56M228.60 897.56H233.60M231.10 905.99V914.43M228.60 914.43H233.60" stroke="#707070" stroke-width="1" fill="none"/>
<path d="M254.10 899.33V892.78M251.60 892.78H256.60M254.10 899.33V905.88M251.60 905.88H256.60" stroke="#707070" stroke-width="1" fill="none"/>
<path d="M277.10 897.56V890.67M274.60 890.67H279.60M277.10 897.56V904.44M274.60 904.44H279.60" stroke="#707070" stroke-width="1" fill="none"/>
<path d="M300.10 899.00V892.34M297.60 892.34H302.60M300.10 899.00V905.66M297.60 905.66H302.60" stroke="#707070" stroke-width="1" fill="none"/>
<polyline points="70.10,1002.23 93.10,992.35 116.10,981.25 139.10,967.71 162.10,954.83 185.10,941.85 208.10,934.96 231.10,924.97 254.10,929.63 277.10,929.63 300.10,925.75" fill="none" stroke="#000" stroke-width="1.6" stroke-linejoin="round"/>
<rect x="65.95" y="1000.23" width="8.3" height="4.0" fill="#000"/>
<rect x="88.95" y="990.35" width="8.3" height="4.0" fill="#000"/>
<rect x="111.95" y="979.25" width="8.3" height="4.0" fill="#000"/>
<rect x="134.95" y="965.71" width="8.3" height="4.0" fill="#000"/>
<rect x="157.95" y="952.83" width="8.3" height="4.0" fill="#000"/>
<rect x="180.95" y="939.85" width="8.3" height="4.0" fill="#000"/>
<rect x="203.95" y="932.96" width="8.3" height="4.0" fill="#000"/>
<rect x="226.95" y="922.97" width="8.3" height="4.0" fill="#000"/>
<rect x="249.95" y="927.63" width="8.3" height="4.0" fill="#000"/>
<rect x="272.95" y="927.63" width="8.3" height="4.0" fill="#000"/>
<rect x="295.95" y="923.75" width="8.3" height="4.0" fill="#000"/>
<polyline points="70.10,985.47 93.10,974.92 116.10,958.50 139.10,941.73 162.10,927.41 185.10,912.32 208.10,906.88 231.10,905.99 254.10,899.33 277.10,897.56 300.10,899.00" fill="none" stroke="#000" stroke-width="1.6" stroke-linejoin="round"/>
<path d="M66.00 985.47L70.10 983.27L74.20 985.47L70.10 987.67Z" fill="#fff" stroke="#000" stroke-width="1.2"/>
<path d="M89.00 974.92L93.10 972.72L97.20 974.92L93.10 977.12Z" fill="#fff" stroke="#000" stroke-width="1.2"/>
<path d="M112.00 958.50L116.10 956.29L120.20 958.50L116.10 960.70Z" fill="#fff" stroke="#000" stroke-width="1.2"/>
<path d="M135.00 941.73L139.10 939.53L143.20 941.73L139.10 943.93Z" fill="#fff" stroke="#000" stroke-width="1.2"/>
<path d="M158.00 927.41L162.10 925.21L166.20 927.41L162.10 929.62Z" fill="#fff" stroke="#000" stroke-width="1.2"/>
<path d="M181.00 912.32L185.10 910.12L189.20 912.32L185.10 914.52Z" fill="#fff" stroke="#000" stroke-width="1.2"/>
<path d="M204.00 906.88L208.10 904.68L212.20 906.88L208.10 909.08Z" fill="#fff" stroke="#000" stroke-width="1.2"/>
<path d="M227.00 905.99L231.10 903.79L235.20 905.99L231.10 908.19Z" fill="#fff" stroke="#000" stroke-width="1.2"/>
<path d="M250.00 899.33L254.10 897.13L258.20 899.33L254.10 901.53Z" fill="#fff" stroke="#000" stroke-width="1.2"/>
<path d="M273.00 897.56L277.10 895.36L281.20 897.56L277.10 899.76Z" fill="#fff" stroke="#000" stroke-width="1.2"/>
<path d="M296.00 899.00L300.10 896.80L304.20 899.00L300.10 901.20Z" fill="#fff" stroke="#000" stroke-width="1.2"/>
<text transform="translate(83.17,864.50) scale(1.0083,1)" font-size="15.70" font-weight="bold" fill="#000" style="white-space:pre" >Endothelium- Independent</text>
<text transform="translate(144.30,885.80) scale(1.0061,1)" font-size="15.26" font-weight="bold" fill="#000" style="white-space:pre" >Relaxation</text>
<text transform="translate(86.71,1042.40) scale(1.0053,1)" font-size="12.79" font-weight="bold" fill="#000" style="white-space:pre" >Sodium Nitroprusside  (-log M)</text>
<text transform="translate(12.20,1002.24) rotate(-90) scale(0.9193,1)" font-size="14.10" font-weight="bold">Percent Relaxation</text>
<path d="M458.4 874.00V1016.90" stroke="#c4c4c4" stroke-width="1" fill="none"/>
<path d="M454.90 1016.90H458.4" stroke="#c4c4c4" stroke-width="1"/>
<text transform="translate(432.44,1020.75) scale(1.1,1)" font-size="11" font-weight="normal">-20</text>
<path d="M454.90 996.30H458.4" stroke="#c4c4c4" stroke-width="1"/>
<text transform="translate(443.21,1000.15) scale(1.1,1)" font-size="11" font-weight="normal">0</text>
<path d="M454.90 975.70H458.4" stroke="#c4c4c4" stroke-width="1"/>
<text transform="translate(436.49,979.55) scale(1.1,1)" font-size="11" font-weight="normal">20</text>
<path d="M454.90 955.10H458.4" stroke="#c4c4c4" stroke-width="1"/>
<text transform="translate(436.49,958.95) scale(1.1,1)" font-size="11" font-weight="normal">40</text>
<path d="M454.90 934.50H458.4" stroke="#c4c4c4" stroke-width="1"/>
<text transform="translate(436.49,938.35) scale(1.1,1)" font-size="11" font-weight="normal">60</text>
<path d="M454.90 913.90H458.4" stroke="#c4c4c4" stroke-width="1"/>
<text transform="translate(436.49,917.75) scale(1.1,1)" font-size="11" font-weight="normal">80</text>
<path d="M454.90 893.30H458.4" stroke="#c4c4c4" stroke-width="1"/>
<text transform="translate(429.78,897.15) scale(1.1,1)" font-size="11" font-weight="normal">100</text>
<path d="M458.4 996.30H689.95" stroke="#c4c4c4" stroke-width="1"/>
<path d="M458.40 996.30v2" stroke="#c4c4c4" stroke-width="1"/>
<path d="M479.45 996.30v2" stroke="#c4c4c4" stroke-width="1"/>
<path d="M500.50 996.30v2" stroke="#c4c4c4" stroke-width="1"/>
<path d="M521.55 996.30v2" stroke="#c4c4c4" stroke-width="1"/>
<path d="M542.60 996.30v2" stroke="#c4c4c4" stroke-width="1"/>
<path d="M563.65 996.30v2" stroke="#c4c4c4" stroke-width="1"/>
<path d="M584.70 996.30v2" stroke="#c4c4c4" stroke-width="1"/>
<path d="M605.75 996.30v2" stroke="#c4c4c4" stroke-width="1"/>
<path d="M626.80 996.30v2" stroke="#c4c4c4" stroke-width="1"/>
<path d="M647.85 996.30v2" stroke="#c4c4c4" stroke-width="1"/>
<path d="M668.90 996.30v2" stroke="#c4c4c4" stroke-width="1"/>
<path d="M689.95 996.30v2" stroke="#c4c4c4" stroke-width="1"/>
<text transform="translate(463.68,1007.50) scale(1.1,1)" font-size="8.3" font-weight="normal" fill="#000">10</text>
<text transform="translate(480.07,1007.50) scale(1.1,1)" font-size="8.3" font-weight="normal" fill="#000">3x10</text>
<text transform="translate(508.49,1007.50) scale(1.1,1)" font-size="8.3" font-weight="normal" fill="#000">9</text>
<text transform="translate(524.75,1007.50) scale(1.1,1)" font-size="8.3" font-weight="normal" fill="#000">3x9</text>
<text transform="translate(550.57,1007.50) scale(1.1,1)" font-size="8.3" font-weight="normal" fill="#000">8</text>
<text transform="translate(566.83,1007.50) scale(1.1,1)" font-size="8.3" font-weight="normal" fill="#000">3x8</text>
<text transform="translate(592.69,1007.50) scale(1.1,1)" font-size="8.3" font-weight="normal" fill="#000">7</text>
<text transform="translate(608.97,1007.50) scale(1.1,1)" font-size="8.3" font-weight="normal" fill="#000">3x7</text>
<text transform="translate(634.75,1007.50) scale(1.1,1)" font-size="8.3" font-weight="normal" fill="#000">6</text>
<text transform="translate(651.03,1007.50) scale(1.1,1)" font-size="8.3" font-weight="normal" fill="#000">3x6</text>
<text transform="translate(676.89,1007.50) scale(1.1,1)" font-size="8.3" font-weight="normal" fill="#000">5</text>
<path d="M468.92 983.42V973.12M466.42 973.12H471.42M468.92 983.42V993.72M466.42 993.72H471.42" stroke="#707070" stroke-width="1" fill="none"/>
<path d="M489.97 981.57V970.96M487.47 970.96H492.47M489.97 981.57V992.18M487.47 992.18H492.47" stroke="#707070" stroke-width="1" fill="none"/>
<path d="M511.02 972.51V962.82M508.52 962.82H513.52M511.02 972.51V982.19M508.52 982.19H513.52" stroke="#707070" stroke-width="1" fill="none"/>
<path d="M532.07 960.15V952.42M529.57 952.42H534.57M532.07 960.15V967.87M529.57 967.87H534.57" stroke="#707070" stroke-width="1" fill="none"/>
<path d="M553.12 937.90V924.61M550.62 924.61H555.62M553.12 937.90V951.19M550.62 951.19H555.62" stroke="#707070" stroke-width="1" fill="none"/>
<path d="M574.17 919.67V911.84M571.67 911.84H576.67M574.17 919.67V927.50M571.67 927.50H576.67" stroke="#707070" stroke-width="1" fill="none"/>
<path d="M595.23 906.38V901.75M592.73 901.75H597.73M595.23 906.38V911.02M592.73 911.02H597.73" stroke="#707070" stroke-width="1" fill="none"/>
<path d="M616.27 902.78V899.07M613.77 899.07H618.77M616.27 902.78V906.48M613.77 906.48H618.77" stroke="#707070" stroke-width="1" fill="none"/>
<path d="M637.33 899.07V895.98M634.83 895.98H639.83M637.33 899.07V902.16M634.83 902.16H639.83" stroke="#707070" stroke-width="1" fill="none"/>
<path d="M658.38 897.32V895.26M655.88 895.26H660.88M658.38 897.32V899.38M655.88 899.38H660.88" stroke="#707070" stroke-width="1" fill="none"/>
<path d="M679.42 897.32V892.68M676.92 892.68H681.92M679.42 897.32V901.95M676.92 901.95H681.92" stroke="#707070" stroke-width="1" fill="none"/>
<path d="M468.92 985.18V976.94M466.42 976.94H471.42M468.92 985.18V993.42M466.42 993.42H471.42" stroke="#707070" stroke-width="1" fill="none"/>
<path d="M489.97 984.66V971.27M487.47 971.27H492.47M489.97 984.66V998.05M487.47 998.05H492.47" stroke="#707070" stroke-width="1" fill="none"/>
<path d="M511.02 974.67V961.28M508.52 961.28H513.52M511.02 974.67V988.06M508.52 988.06H513.52" stroke="#707070" stroke-width="1" fill="none"/>
<path d="M532.07 950.05V938.31M529.57 938.31H534.57M532.07 950.05V961.79M529.57 961.79H534.57" stroke="#707070" stroke-width="1" fill="none"/>
<path d="M553.12 937.90V925.54M550.62 925.54H555.62M553.12 937.90V950.26M550.62 950.26H555.62" stroke="#707070" stroke-width="1" fill="none"/>
<path d="M574.17 936.15V921.73M571.67 921.73H576.67M574.17 936.15V950.57M571.67 950.57H576.67" stroke="#707070" stroke-width="1" fill="none"/>
<path d="M595.23 927.70V915.24M592.73 915.24H597.73M595.23 927.70V940.16M592.73 940.16H597.73" stroke="#707070" stroke-width="1" fill="none"/>
<path d="M616.27 916.06V906.90M613.77 906.90H618.77M616.27 916.06V925.23M613.77 925.23H618.77" stroke="#707070" stroke-width="1" fill="none"/>
<path d="M637.33 908.23V899.99M634.83 899.99H639.83M637.33 908.23V916.47M634.83 916.47H639.83" stroke="#707070" stroke-width="1" fill="none"/>
<path d="M658.38 901.54V895.15M655.88 895.15H660.88M658.38 901.54V907.93M655.88 907.93H660.88" stroke="#707070" stroke-width="1" fill="none"/>
<path d="M679.42 897.32V892.68M676.92 892.68H681.92M679.42 897.32V901.95M676.92 901.95H681.92" stroke="#707070" stroke-width="1" fill="none"/>
<polyline points="468.92,983.42 489.97,981.57 511.02,972.51 532.07,960.15 553.12,937.90 574.17,919.67 595.23,906.38 616.27,902.78 637.33,899.07 658.38,897.32 679.42,897.32" fill="none" stroke="#000" stroke-width="1.6" stroke-linejoin="round"/>
<rect x="465.97" y="981.38" width="5.9" height="4.1" fill="#fff" stroke="#000" stroke-width="1.1"/>
<rect x="487.02" y="979.52" width="5.9" height="4.1" fill="#fff" stroke="#000" stroke-width="1.1"/>
<rect x="508.07" y="970.46" width="5.9" height="4.1" fill="#fff" stroke="#000" stroke-width="1.1"/>
<rect x="529.12" y="958.10" width="5.9" height="4.1" fill="#fff" stroke="#000" stroke-width="1.1"/>
<rect x="550.17" y="935.85" width="5.9" height="4.1" fill="#fff" stroke="#000" stroke-width="1.1"/>
<rect x="571.22" y="917.62" width="5.9" height="4.1" fill="#fff" stroke="#000" stroke-width="1.1"/>
<rect x="592.27" y="904.33" width="5.9" height="4.1" fill="#fff" stroke="#000" stroke-width="1.1"/>
<rect x="613.32" y="900.73" width="5.9" height="4.1" fill="#fff" stroke="#000" stroke-width="1.1"/>
<rect x="634.38" y="897.02" width="5.9" height="4.1" fill="#fff" stroke="#000" stroke-width="1.1"/>
<rect x="655.42" y="895.27" width="5.9" height="4.1" fill="#fff" stroke="#000" stroke-width="1.1"/>
<rect x="676.47" y="895.27" width="5.9" height="4.1" fill="#fff" stroke="#000" stroke-width="1.1"/>
<polyline points="468.92,985.18 489.97,984.66 511.02,974.67 532.07,950.05 553.12,937.90 574.17,936.15 595.23,927.70 616.27,916.06 637.33,908.23 658.38,901.54 679.42,897.32" fill="none" stroke="#000" stroke-width="1.6" stroke-linejoin="round"/>
<path d="M465.52 985.18L468.92 982.88L472.32 985.18L468.92 987.48Z" fill="#000"/>
<path d="M486.57 984.66L489.97 982.36L493.37 984.66L489.97 986.96Z" fill="#000"/>
<path d="M507.62 974.67L511.02 972.37L514.42 974.67L511.02 976.97Z" fill="#000"/>
<path d="M528.67 950.05L532.07 947.75L535.47 950.05L532.07 952.35Z" fill="#000"/>
<path d="M549.73 937.90L553.12 935.60L556.52 937.90L553.12 940.20Z" fill="#000"/>
<path d="M570.77 936.15L574.17 933.85L577.57 936.15L574.17 938.45Z" fill="#000"/>
<path d="M591.83 927.70L595.23 925.40L598.62 927.70L595.23 930.00Z" fill="#000"/>
<path d="M612.88 916.06L616.27 913.76L619.67 916.06L616.27 918.36Z" fill="#000"/>
<path d="M633.93 908.23L637.33 905.93L640.73 908.23L637.33 910.53Z" fill="#000"/>
<path d="M654.98 901.54L658.38 899.24L661.77 901.54L658.38 903.84Z" fill="#000"/>
<path d="M676.02 897.32L679.42 895.02L682.82 897.32L679.42 899.62Z" fill="#000"/>
<text transform="translate(464.97,864.50) scale(1.0103,1)" font-size="15.70" font-weight="bold" fill="#000" style="white-space:pre" >Endothelium- Independent</text>
<text transform="translate(525.39,885.80) scale(1.0207,1)" font-size="15.26" font-weight="bold" fill="#000" style="white-space:pre" >Relaxation</text>
<text transform="translate(465.61,1042.40) scale(1.0048,1)" font-size="12.79" font-weight="bold" fill="#000" style="white-space:pre" >Sodium Nitroprusside  (-log M)</text>
<text transform="translate(413.00,1002.34) rotate(-90) scale(0.8845,1)" font-size="14.68" font-weight="bold">Percent Relaxation</text>
<text transform="translate(52.77,22.40) scale(0.9991,1)" font-size="26.60" font-weight="bold" fill="#000" style="white-space:pre" stroke="#000" stroke-width="0.6">Day 9 (On Treatment)</text>
<text transform="translate(414.50,23.20) scale(1.0183,1)" font-size="25.73" font-weight="bold" fill="#000" style="white-space:pre" stroke="#000" stroke-width="0.6">Day 28 (Post Treatment)</text>
<rect x="44.3" y="30.8" width="276.9" height="2.8" fill="#000"/>
<rect x="427" y="30.8" width="276.2" height="2.8" fill="#000"/>
<rect x="316.8" y="48.0" width="9.6" height="6.0" fill="#fff" stroke="#7a7a7a" stroke-width="1.3"/>
<rect x="316.8" y="64.6" width="10.4" height="7.0" fill="#000"/>
<text transform="translate(333.23,56.30) scale(0.9968,1)" font-size="13.08" font-weight="bold" fill="#000" style="white-space:pre" >Vehicle</text>
<text transform="translate(332.92,73.10) scale(1.0096,1)" font-size="12.65" font-weight="bold" fill="#000" style="white-space:pre" >Serelaxin</text>
<path d="M289.6 124.8H298.3V160.6H289.6" fill="none" stroke="#4a4a4a" stroke-width="1.2"/>
<path d="M672.1 80.8H677.8V166.0H672.1" fill="none" stroke="#4a4a4a" stroke-width="1.2"/>
<path d="M308.1 139.9V149.3" stroke="#222" stroke-width="1.6"/>
<path d="M304.2 142.6H312.0M304.2 146.6H312.0" stroke="#222" stroke-width="1.1"/>
<path d="M690.2 119.3V128.3" stroke="#222" stroke-width="1.6"/>
<path d="M686.4 121.7H694.0M686.4 125.7H694.0" stroke="#222" stroke-width="1.1"/>
<ellipse cx="155.0" cy="184.7" rx="2.4" ry="1.5" fill="#222"/>
<ellipse cx="216.0" cy="184.7" rx="2.4" ry="1.5" fill="#222"/>
<ellipse cx="283.1" cy="184.7" rx="2.4" ry="1.5" fill="#222"/>
<ellipse cx="664.8" cy="185.9" rx="2.4" ry="1.5" fill="#222"/>
<path d="M601.7 188.8V194.1M599.3 190.5H604.6" stroke="#222" stroke-width="1.3"/>
<text transform="translate(528.49,200.20) scale(0.9712,1)" font-size="10.47" font-weight="normal" fill="#000" style="white-space:pre" >P= 0.05</text>
</svg></body></html>
